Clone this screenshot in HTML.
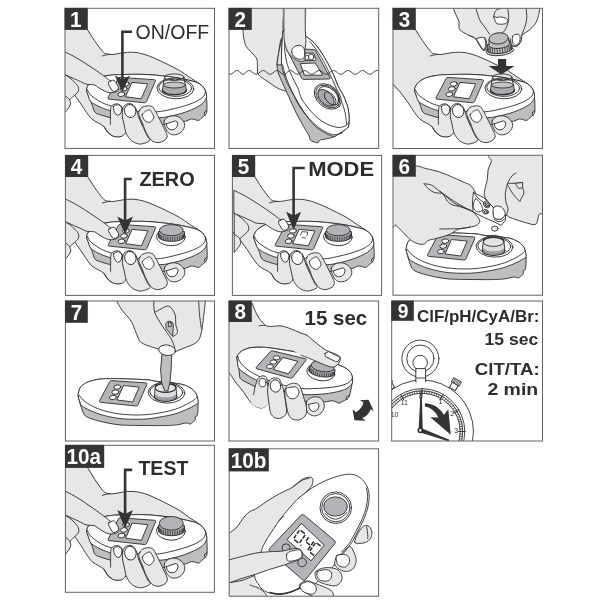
<!DOCTYPE html>
<html><head><meta charset="utf-8">
<style>
html,body{margin:0;padding:0;background:#fff;}
body{width:604px;height:604px;overflow:hidden;font-family:"Liberation Sans",sans-serif;}
svg{display:block;position:absolute;left:0;top:0;will-change:transform;}
text{font-family:"Liberation Sans",sans-serif;}
.l{fill:none;stroke:#2f2d2e;stroke-width:0.9;stroke-linecap:round;stroke-linejoin:round;}
.s{fill:#e6e7e8;stroke:#2f2d2e;stroke-width:0.9;stroke-linejoin:round;stroke-linecap:round;}
.sn{fill:#e6e7e8;stroke:none;}
.w{fill:#fff;stroke:#2f2d2e;stroke-width:0.9;stroke-linejoin:round;stroke-linecap:round;}
.wn{fill:#fff;stroke:none;}
.m{fill:#bcbec0;stroke:#2f2d2e;stroke-width:0.9;stroke-linejoin:round;}
.mn{fill:#bcbec0;stroke:none;}
.g{fill:#b3b5b8;stroke:#2f2d2e;stroke-width:0.9;stroke-linejoin:round;}
.k{fill:#353334;stroke:none;}
.ar{fill:none;stroke:#353334;stroke-width:2.6;stroke-linejoin:miter;}
.pb{fill:none;stroke:#626061;stroke-width:1;}
.nb{fill:#353334;}
.nt{fill:#fff;font-weight:bold;font-size:22px;}
.lb{fill:#2e2c2d;font-weight:bold;}
</style></head><body>
<svg width="604" height="604" viewBox="0 0 604 604">
<defs>
<clipPath id="c1"><rect x="65" y="8.3" width="149.5" height="140.1"/></clipPath>
<clipPath id="c2"><rect x="229" y="8.3" width="149.7" height="140.1"/></clipPath>
<clipPath id="c3"><rect x="393" y="8.3" width="149.5" height="140.2"/></clipPath>
<clipPath id="c4"><rect x="65.4" y="155.4" width="149.1" height="140"/></clipPath>
<clipPath id="c5"><rect x="232.4" y="155.4" width="149.2" height="140"/></clipPath>
<clipPath id="c6"><rect x="393" y="155.3" width="149.5" height="139.9"/></clipPath>
<clipPath id="c7"><rect x="65.4" y="301" width="149.1" height="140"/></clipPath>
<clipPath id="c8"><rect x="229" y="301" width="149.6" height="140"/></clipPath>
<clipPath id="c9"><rect x="391.7" y="301" width="150.8" height="140"/></clipPath>
<clipPath id="c10"><rect x="65.4" y="445.3" width="149" height="147"/></clipPath>
<clipPath id="c11"><rect x="229.2" y="448.8" width="149.4" height="147.4"/></clipPath>

</defs>

<g clip-path="url(#c1)"><g><path class="sn" d="M64.0 29.0C67.9 20.0 82.1 27.4 87.2 29.3C92.3 31.2 92.0 37.0 94.5 40.6C97.0 44.2 100.4 49.0 102.4 51.2C104.4 53.4 104.6 53.2 106.4 53.8C108.2 54.3 110.3 54.6 113.0 54.5C115.7 54.4 119.0 53.3 122.3 52.9C125.6 52.5 129.3 52.0 132.9 52.2C136.5 52.4 140.2 53.1 144.0 54.2C147.8 55.3 151.7 57.0 155.9 58.8C160.1 60.6 165.1 63.1 169.1 65.1C173.1 67.1 176.4 68.6 179.7 70.6C183.0 72.6 185.7 74.8 189.0 77.0C192.3 79.2 196.9 81.7 199.6 83.8C202.3 85.9 204.9 86.9 205.0 89.6C205.1 92.3 205.8 95.3 200.0 100.0C194.2 104.7 182.3 112.7 170.0 118.0C157.7 123.3 134.2 128.9 126.0 132.0C117.8 135.1 123.0 135.6 121.0 136.3C119.0 137.0 116.5 137.0 114.3 136.3C112.1 135.6 109.5 134.0 107.7 132.3C105.9 130.6 105.2 127.8 103.7 126.3C102.2 124.8 100.4 124.2 98.4 123.0C96.4 121.8 93.8 120.8 91.8 119.0C89.8 117.2 88.5 115.2 86.5 112.4C84.5 109.7 82.3 105.9 79.9 102.5C77.5 99.1 74.7 95.2 72.0 91.9C69.3 88.7 65.3 93.5 64.0 83.0C62.7 72.5 60.1 38.0 64.0 29.0Z"/><path class="l" d="M87.2 29.3C88.4 31.2 92.0 37.0 94.5 40.6C97.0 44.2 100.4 49.0 102.4 51.2C104.4 53.4 104.6 53.2 106.4 53.8C108.2 54.3 110.3 54.6 113.0 54.5C115.7 54.4 119.0 53.3 122.3 52.9C125.6 52.5 129.3 52.0 132.9 52.2C136.5 52.4 140.2 53.1 144.0 54.2C147.8 55.3 151.7 57.0 155.9 58.8C160.1 60.6 165.1 63.1 169.1 65.1C173.1 67.1 176.4 68.6 179.7 70.6C183.0 72.6 185.7 74.8 189.0 77.0C192.3 79.2 196.9 81.7 199.6 83.8C202.2 85.9 204.0 88.6 204.9 89.6"/><path class="l" d="M102.2 56.0C102.8 55.8 104.7 55.2 106.0 54.9C107.3 54.6 109.5 54.4 110.2 54.3"/><path class="l" d="M64.0 83.0C65.3 84.5 69.3 88.7 72.0 91.9C74.7 95.2 77.5 99.1 79.9 102.5C82.3 105.9 84.5 109.7 86.5 112.4C88.5 115.2 89.8 117.2 91.8 119.0C93.8 120.8 96.4 121.8 98.4 123.0C100.4 124.2 102.2 124.8 103.7 126.3C105.2 127.8 105.9 130.6 107.7 132.3C109.5 134.0 112.1 135.6 114.3 136.3C116.5 137.0 119.1 137.0 121.0 136.3C122.9 135.6 124.8 133.0 125.6 132.3"/><path class="m" d="M86.5 90.3C86.4 89.0 86.5 88.5 87.2 87.2C87.9 85.9 88.6 83.9 90.5 82.3C92.4 80.7 95.3 78.8 98.4 77.7C101.5 76.6 105.5 75.9 109.0 75.4C112.5 74.9 113.8 74.8 119.6 74.6C125.4 74.4 137.3 74.2 144.0 74.4C150.7 74.6 154.7 75.1 160.0 75.6C165.3 76.1 171.0 76.8 176.0 77.6C181.0 78.4 186.5 79.7 190.0 80.5C193.5 81.3 195.0 81.7 197.0 82.6C199.0 83.5 200.8 84.5 202.2 85.9C203.6 87.3 204.8 89.2 205.5 91.2C206.2 93.2 206.4 94.6 206.6 97.9C206.8 101.2 207.2 108.2 206.9 111.1C206.6 114.0 205.8 113.9 204.9 115.1C204.0 116.2 202.6 117.1 201.5 118.0C200.4 118.9 200.0 120.2 198.3 120.4C196.7 120.6 194.0 118.8 191.6 119.0C189.2 119.2 188.1 120.8 183.7 121.7C179.3 122.6 172.3 124.1 165.0 124.5C157.7 124.9 147.5 124.8 140.0 124.0C132.5 123.2 124.9 121.0 120.0 120.0C115.1 119.0 113.3 118.5 110.4 117.7C107.5 116.9 105.0 116.3 102.4 115.4C99.8 114.5 96.7 114.0 95.0 112.2C93.3 110.4 93.3 107.7 92.1 104.8C90.9 101.9 88.9 97.2 88.0 94.8C87.1 92.4 86.6 91.6 86.5 90.3Z"/><path class="w" d="M86.5 90.3C86.4 89.0 86.5 88.5 87.2 87.2C87.9 85.9 88.6 83.9 90.5 82.3C92.4 80.7 95.3 78.8 98.4 77.7C101.5 76.6 105.5 75.9 109.0 75.4C112.5 74.9 113.8 74.8 119.6 74.6C125.4 74.4 137.3 74.2 144.0 74.4C150.7 74.6 154.7 75.1 160.0 75.6C165.3 76.1 171.0 76.8 176.0 77.6C181.0 78.4 186.5 79.7 190.0 80.5C193.5 81.3 195.0 81.7 197.0 82.6C199.0 83.5 200.8 84.5 202.2 85.9C203.6 87.3 204.8 89.2 205.5 91.2C206.2 93.2 207.0 95.8 206.4 97.9C205.8 100.0 204.2 102.0 202.2 103.8C200.2 105.6 197.6 107.0 194.3 108.5C191.0 110.0 186.6 111.8 182.4 113.1C178.2 114.4 172.9 115.6 169.1 116.4C165.3 117.2 164.7 117.5 159.8 117.7C155.0 117.9 146.3 118.0 140.0 117.5C133.7 117.0 126.9 115.6 122.0 114.5C117.1 113.4 113.5 111.8 110.4 110.8C107.4 109.8 105.9 109.4 103.7 108.5C101.5 107.6 99.3 106.8 97.1 105.6C94.9 104.4 92.0 103.0 90.5 101.2C89.0 99.4 88.7 96.6 88.0 94.8C87.3 93.0 86.6 91.6 86.5 90.3Z"/><path class="l" d="M87.4 89.5C87.8 90.2 88.5 92.6 89.7 94.0C90.9 95.4 92.7 96.7 94.6 98.1C96.5 99.5 98.9 101.1 101.3 102.3C103.7 103.5 105.6 104.2 108.7 105.2C111.8 106.2 114.8 107.5 120.0 108.6C125.2 109.7 133.8 111.1 140.0 111.6C146.2 112.1 152.3 112.1 157.2 111.8C162.0 111.5 164.9 110.7 169.1 109.8C173.3 108.9 178.0 107.8 182.4 106.5C186.8 105.2 192.1 103.5 195.6 101.8C199.1 100.1 201.8 98.3 203.5 96.5C205.2 94.7 205.2 92.1 205.5 91.2"/><path class="l" d="M206.6 110.8C206.3 111.0 205.0 111.4 204.6 112.0C204.2 112.6 204.2 113.7 204.4 114.2C204.6 114.7 205.4 115.0 205.6 115.2"/><path class="g" d="M120.2 77.4L154.4 79.7Q155.9 79.9 155.3 81.3L146.5 101.6Q145.9 103 144.3 102.8L109 99.1Q107.3 98.9 108.1 97.4L118.2 78.4Q118.8 77.3 120.2 77.4Z"/><path class="w" d="M132.3 82.4L147.7 83.9L141.2 98.8L125.8 96.8Z"/><ellipse class="w" cx="125.8" cy="83.9" rx="3.5" ry="2.2" transform="rotate(-8 125.8 83.9)"/><ellipse class="w" cx="123.8" cy="88.9" rx="3.5" ry="2.2" transform="rotate(-8 123.8 88.9)"/><ellipse class="w" cx="121.4" cy="94.3" rx="3.5" ry="2.2" transform="rotate(-8 121.4 94.3)"/><ellipse class="w" cx="175.4" cy="88.4" rx="18.4" ry="10.4" transform="rotate(2 175.4 88.4)"/><ellipse class="w" cx="175.2" cy="87.8" rx="16.5" ry="8.6" transform="rotate(2 175.2 87.8)"/><path class="mn" d="M163.4 85L162.4 90A12 4.7 0 0 0 186.4 90L185.4 85Z" style="fill:#a9abae"/><path class="l" d="M162.4 90A12 4.7 0 0 0 186.4 90"  style="stroke-width:1.5"/><ellipse class="m" cx="174.4" cy="85.0" rx="10.8" ry="3.0" style="fill:#c3c5c7"/><path class="l" d="M164.5 77.2L162.4 90M183.9 77.2L186.4 90"/><ellipse class="l" cx="174.2" cy="77.2" rx="9.7" ry="3.3"/><path class="sn" d="M110.6 109.1C110.8 106.1 110.8 107.0 111.3 106.3C111.8 105.5 112.5 105.0 113.4 104.6C114.3 104.2 115.6 103.8 116.6 103.8C117.6 103.8 118.8 104.1 119.6 104.6C120.4 105.1 121.1 105.9 121.6 106.8C122.1 107.7 122.1 108.1 122.4 110.0C122.7 111.9 122.8 115.0 123.4 118.0C124.0 121.0 125.3 125.5 125.8 128.0C126.3 130.5 127.0 131.6 126.2 133.0C125.4 134.4 123.0 136.0 121.0 136.6C119.0 137.2 116.0 137.2 114.3 136.6C112.6 136.0 111.2 135.0 110.6 133.0C109.9 131.0 110.4 128.4 110.4 124.4C110.4 120.4 110.4 112.1 110.6 109.1Z"/><path class="l" d="M110.4 124.4C110.4 123.0 110.4 118.5 110.4 116.0C110.4 113.5 110.4 110.7 110.6 109.1C110.8 107.5 110.8 107.0 111.3 106.3C111.8 105.5 112.5 105.0 113.4 104.6C114.3 104.2 115.6 103.8 116.6 103.8C117.6 103.8 118.8 104.1 119.6 104.6C120.4 105.1 121.1 105.9 121.6 106.8C122.1 107.7 122.1 108.1 122.4 110.0C122.7 111.9 122.8 115.0 123.4 118.0C124.0 121.0 125.3 125.8 125.8 128.0C126.3 130.2 126.3 130.9 126.4 131.5"/><path class="l" d="M103.7 126.3C104.4 127.3 106.6 130.9 107.7 132.3C108.8 133.7 109.5 134.1 110.6 134.8C111.7 135.5 112.6 136.2 114.3 136.5C116.0 136.8 119.2 136.9 121.0 136.5C122.8 136.1 123.9 134.7 124.8 133.8C125.7 132.9 126.1 131.5 126.4 131.0"/><path class="s" d="M122.6 109.0C122.8 107.3 123.1 107.1 123.8 106.3C124.5 105.5 125.5 104.7 126.5 104.2C127.5 103.8 128.8 103.4 130.0 103.6C131.2 103.8 132.5 104.5 133.5 105.4C134.5 106.3 135.1 106.8 136.0 108.8C136.9 110.8 137.7 114.8 138.8 117.7C139.9 120.6 141.2 122.9 142.6 126.0C144.0 129.1 146.3 134.1 147.5 136.5C148.7 138.9 150.6 139.0 150.0 140.2C149.4 141.3 146.0 142.8 144.0 143.4C142.0 144.0 140.3 144.3 138.2 143.8C136.1 143.3 133.5 142.3 131.5 140.6C129.5 138.9 127.5 136.4 126.3 133.6C125.0 130.8 124.7 126.9 124.0 124.0C123.3 121.1 122.5 118.9 122.3 116.4C122.1 113.9 122.3 110.7 122.6 109.0Z"/><path class="s" d="M164.2 121.0C164.7 119.3 166.4 117.8 168.2 116.9C170.0 116.1 173.1 115.6 175.2 115.9C177.3 116.2 179.4 117.3 181.0 118.6C182.6 119.9 184.1 122.0 184.5 123.8C184.9 125.6 184.3 127.9 183.3 129.6C182.3 131.2 180.4 132.8 178.7 133.7C177.0 134.6 174.7 135.0 172.9 134.8C171.2 134.6 169.5 133.8 168.2 132.5C166.9 131.2 165.7 128.9 165.0 127.0C164.3 125.1 163.7 122.7 164.2 121.0Z"/><path class="s" d="M139.4 110.6C140.0 109.4 140.7 108.2 142.0 107.4C143.3 106.6 145.7 106.0 147.2 105.8C148.7 105.6 149.9 105.8 151.0 106.2C152.1 106.6 152.5 106.4 153.6 108.0C154.7 109.6 156.1 112.5 157.8 115.7C159.5 118.9 162.1 124.0 163.6 127.3C165.1 130.6 166.9 133.3 167.1 135.4C167.3 137.5 166.5 138.8 165.0 140.0C163.5 141.2 160.2 142.5 158.0 142.6C155.8 142.7 153.6 141.8 152.0 140.8C150.4 139.8 149.7 138.3 148.5 136.5C147.3 134.7 146.1 132.4 145.0 130.0C143.9 127.6 143.1 124.6 142.0 122.0C140.9 119.4 139.1 116.3 138.7 114.4C138.3 112.5 138.8 111.8 139.4 110.6Z"/><path class="w" d="M113.3 106.6Q113.2 110.8 115.4 113.8Q117.6 116.2 119.8 114.6Q121.8 112.6 121.7 108.4Q121.4 105.6 118.6 104.8Q115.2 104.4 113.3 106.6Z"/><ellipse class="w" cx="130.2" cy="111.0" rx="5.7" ry="6.6" transform="rotate(-14 130.2 111)"/><path class="w" d="M142.2 114.6C142.6 113.5 144.3 112.2 145.5 111.4C146.7 110.6 148.5 109.7 149.6 109.9C150.7 110.1 151.1 111.4 151.8 112.6C152.5 113.8 153.9 115.8 153.9 117.1C153.9 118.4 152.8 119.7 152.0 120.6C151.2 121.5 150.3 122.3 149.2 122.4C148.1 122.5 146.5 121.9 145.5 121.2C144.5 120.5 143.8 119.1 143.2 118.0C142.6 116.9 141.8 115.7 142.2 114.6Z"/><path class="w" d="M166 123.9L175.8 120.8Q177.9 121.4 177.8 124.2Q177.4 127.6 174.4 129.3Q171.4 130.4 168.8 129Q166.6 127.2 166 123.9Z"/><path class="s" d="M64.0 74.2C65.0 74.8 68.0 76.5 69.8 77.9C71.6 79.3 73.4 81.0 74.8 82.4C76.2 83.9 77.5 85.2 78.1 86.6C78.7 88.0 78.8 89.5 78.5 90.7C78.2 91.9 77.4 92.5 76.4 93.6C75.4 94.7 73.4 96.3 72.3 97.3C71.2 98.3 70.1 98.8 69.8 99.8C69.5 100.8 70.7 101.8 70.6 103.1C70.5 104.3 70.1 105.6 69.0 107.3C67.9 109.0 64.8 112.5 64.0 113.5L64 74.2Z"/><path class="l" d="M64.0 95.2C64.5 95.5 66.0 96.4 67.0 97.2C68.0 98.0 69.3 99.4 69.8 99.8"/><path class="s" d="M64.0 51.5C65.7 52.3 70.6 54.6 73.9 56.4C77.2 58.2 80.6 60.3 83.9 62.4C87.2 64.5 90.5 66.7 93.8 68.9C97.1 71.1 101.0 73.9 103.7 75.8C106.4 77.7 108.0 79.3 109.7 80.3C111.4 81.3 112.4 81.1 113.7 82.0C115.0 82.9 116.8 84.4 117.6 85.7C118.4 87.0 118.9 88.7 118.6 89.7C118.3 90.7 117.0 91.4 115.6 91.9C114.2 92.4 112.1 92.9 110.4 92.8C108.7 92.7 107.3 92.3 105.4 91.5C103.5 90.7 100.6 88.9 98.8 87.8C97.0 86.7 96.3 85.5 94.6 84.9C92.9 84.4 90.4 84.7 88.8 84.5C87.2 84.3 86.1 84.2 84.7 83.7C83.3 83.2 82.7 82.6 80.6 81.6C78.5 80.6 75.1 79.1 72.3 77.9C69.5 76.7 65.4 74.8 64.0 74.2Z"/><path class="w" d="M108.5 82.2L112.6 80.2Q114.2 80 115.2 81.4L118.3 86.6Q118.8 88.4 117.5 89.6L115.2 91.3Q113.2 91.8 111.8 90.2L108.7 84.8Q108 83.2 108.5 82.2Z"/></g><path class="ar" d="M132.0 31.8L122.4 31.8L122.4 80.6"/><path class="k" d="M114.8 75.6L122.4 79.4L130.0 75.6L122.4 91.9Z"/></g>
<g clip-path="url(#c2)"><path class="sn" d="M242.9 7.0L242.9 27.9L243.6 37.1L246.2 46.4L252.8 53.7L256.8 59.0L257.4 66.0L257.5 72.9L260.8 76.9L268.7 82.2L277.0 87.9L282.7 90.3L286.0 91.0L292.0 80.0L300.0 60.0L306.0 41.0L305.3 7.0Z"/><path class="l" d="M242.9 27.9C243.0 29.4 243.1 34.0 243.6 37.1C244.1 40.2 244.7 43.6 246.2 46.4C247.7 49.2 251.0 51.6 252.8 53.7C254.6 55.8 256.0 57.0 256.8 59.0C257.6 61.0 257.3 63.7 257.4 66.0C257.5 68.3 257.5 71.8 257.5 72.9"/><path class="l" d="M257.5 72.9C258.1 73.6 258.9 75.4 260.8 76.9C262.7 78.5 266.0 80.4 268.7 82.2C271.4 84.0 274.7 86.6 277.0 87.9C279.3 89.2 281.2 89.8 282.7 90.3C284.2 90.8 285.4 90.9 286.0 91.0"/><path class="m" d="M284.0 30.0C281.1 30.6 283.1 35.0 282.6 36.5C282.1 38.0 281.5 37.7 281.0 39.3C280.5 40.9 280.0 43.7 279.6 46.0C279.2 48.3 279.1 50.1 278.7 53.2C278.3 56.3 277.0 61.3 277.0 64.8C277.0 68.3 277.7 70.9 278.7 74.0C279.7 77.1 281.1 79.6 282.8 83.4C284.5 87.2 286.6 91.8 288.8 96.8C291.1 101.8 293.8 108.2 296.3 113.2C298.8 118.2 301.6 122.9 303.7 126.6C305.8 130.3 307.8 133.4 308.9 135.6C310.0 137.8 309.7 139.0 310.4 140.0C311.1 141.0 311.8 141.2 313.0 141.6C314.2 142.0 316.7 143.0 317.9 142.7C319.1 142.4 318.7 140.6 320.1 140.0C321.5 139.4 323.9 139.4 326.1 138.9C328.3 138.4 331.3 138.0 333.5 137.1C335.7 136.2 337.5 134.6 339.5 133.3C341.5 132.1 343.8 131.0 345.4 129.6C346.9 128.2 348.3 128.3 348.8 125.1C349.3 121.9 349.2 114.9 348.4 110.2C347.6 105.5 345.6 100.7 343.9 96.8C342.2 92.9 340.1 90.4 338.4 86.8C336.7 83.2 335.4 79.1 333.7 75.2C331.9 71.3 330.0 67.5 327.9 63.6C325.8 59.7 323.3 55.5 321.0 52.0C318.7 48.5 316.5 45.3 314.0 42.7C311.5 40.1 308.2 38.0 305.9 36.4C303.6 34.8 303.6 34.1 300.0 33.0C296.4 31.9 286.9 29.4 284.0 30.0Z"/><path class="s" d="M283.3 7.0C283.2 9.2 283.1 15.4 283.0 20.0C282.9 24.6 283.3 31.0 283.0 34.5C282.7 38.0 282.0 38.0 281.3 41.1C280.6 44.2 279.4 49.0 278.7 53.0C278.0 57.0 277.3 62.8 277.0 64.8L281.6 64.8L281.6 53.2L282.2 41.6L284.6 34.5L284.2 7Z"/><path class="w" d="M284.5 30.0C281.5 31.4 282.7 37.7 282.2 41.6C281.7 45.5 281.7 49.3 281.6 53.2C281.5 57.1 281.2 61.3 281.6 64.8C282.0 68.3 282.9 70.9 283.9 74.0C284.8 77.1 285.5 79.6 287.3 83.4C289.1 87.2 292.1 92.1 294.8 96.8C297.5 101.5 300.5 107.0 303.7 111.7C306.9 116.4 310.6 121.6 314.1 125.1C317.6 128.6 321.4 130.7 324.6 132.6C327.8 134.5 331.0 136.2 333.5 136.3C336.0 136.4 337.5 134.4 339.5 133.3C341.5 132.2 343.8 131.0 345.4 129.6C346.9 128.2 348.3 128.3 348.8 125.1C349.3 121.9 349.2 114.9 348.4 110.2C347.6 105.5 345.6 100.7 343.9 96.8C342.2 92.9 340.1 90.4 338.4 86.8C336.7 83.2 335.4 79.1 333.7 75.2C331.9 71.3 330.0 67.5 327.9 63.6C325.8 59.7 323.3 55.5 321.0 52.0C318.7 48.5 316.5 45.3 314.0 42.7C311.5 40.1 308.2 38.0 305.9 36.4C303.6 34.8 303.6 34.1 300.0 33.0C296.4 31.9 287.5 28.6 284.5 30.0Z"/><path class="l" d="M284.5 41.6C284.6 43.5 284.6 49.3 285.1 53.2C285.6 57.1 286.2 60.9 287.4 64.8C288.5 68.7 290.3 72.6 292.0 76.4C293.7 80.2 296.1 84.0 297.8 87.9C299.5 91.8 299.5 95.3 302.2 99.8C304.9 104.3 310.1 110.7 314.1 114.7C318.1 118.7 322.1 121.5 326.1 123.6C330.1 125.7 334.7 127.1 338.0 127.4C341.3 127.7 344.2 126.5 346.0 125.6C347.8 124.7 348.2 122.6 348.6 122.0"/><path class="l" d="M282.6 64.8C283.1 66.7 284.2 72.0 285.6 76.0C287.0 80.0 288.7 84.0 291.0 89.0C293.3 94.0 296.1 100.8 299.2 105.8C302.3 110.8 306.0 115.2 309.7 119.2C313.4 123.2 317.6 127.0 321.6 129.6C325.6 132.2 330.0 134.3 333.5 134.8C337.0 135.3 341.0 133.0 342.5 132.6"/><path class="l" d="M310.0 41.5C311.3 43.2 315.5 48.2 318.0 52.0C320.5 55.8 322.8 59.9 325.0 64.0C327.2 68.1 329.1 72.5 331.0 76.5C332.9 80.5 334.7 84.4 336.4 88.3C338.1 92.2 339.6 96.0 341.0 100.0C342.4 104.0 344.1 108.0 345.0 112.0C345.9 116.0 346.3 122.0 346.6 124.0"/><path class="g" d="M296 48.5L313.8 49.6Q315.2 49.8 315.8 51L330 77.5Q330.6 79 329 79L303.6 79.4Q302.2 79.4 301.6 78.2L287 50Z"/><path class="w" d="M300.7 63.6L315.2 63L322.7 75.2L304.8 75.2Z"/><path class="w" d="M296 53.2L313 53.2Q313.8 53.2 314.2 54.2L316 59.4Q316.3 60.4 315.4 60.4L300 60.8Z"/><ellipse class="w" cx="306.8" cy="57.6" rx="2.0" ry="2.4"/><ellipse class="w" cx="311.2" cy="57.0" rx="2.7" ry="2.9"/><ellipse class="w" cx="327.8" cy="96.5" rx="15.2" ry="10.8" transform="rotate(40 327.8 96.5)"/><ellipse class="w" cx="327.9" cy="96.5" rx="13.6" ry="9.4" transform="rotate(40 327.9 96.5)"/><ellipse class="w" cx="328.4" cy="96.3" rx="11.8" ry="7.8" transform="rotate(42 328.4 96.3)"/><ellipse class="m" cx="326.0" cy="97.8" rx="10.0" ry="6.0" transform="rotate(46 326 97.8)" style="fill:#a7a9ac"/><ellipse class="l" cx="330.2" cy="98.4" rx="7.8" ry="4.2" transform="rotate(50 330.2 98.4)"/><path class="l" d="M333.5 88.6Q340 94 338.4 102"/><path class="sn" d="M283.9 7.0C280.3 10.8 283.8 24.2 283.9 30.0C284.0 35.8 283.9 38.1 284.5 41.6C285.1 45.1 286.1 48.4 287.4 50.9C288.6 53.4 290.3 55.1 292.0 56.7C293.7 58.3 296.1 59.9 297.8 60.7C299.5 61.5 301.2 61.5 302.4 61.3C303.6 61.1 304.4 60.7 304.8 59.5C305.2 58.3 304.9 55.6 304.9 54.0C304.9 52.4 304.6 51.8 304.8 49.7C305.0 47.6 305.8 44.9 305.9 41.6C306.0 38.3 305.4 35.8 305.3 30.0C305.2 24.2 308.9 10.8 305.3 7.0C301.7 3.2 287.5 3.2 283.9 7.0Z"/><path class="l" d="M283.9 7.0C283.9 10.8 283.8 24.2 283.9 30.0C284.0 35.8 283.9 38.1 284.5 41.6C285.1 45.1 286.1 48.4 287.4 50.9C288.6 53.4 290.3 55.1 292.0 56.7C293.7 58.3 296.1 59.9 297.8 60.7C299.5 61.5 301.2 61.5 302.4 61.3C303.6 61.1 304.4 60.7 304.8 59.5C305.2 58.3 304.9 55.6 304.9 54.0C304.9 52.4 304.6 51.8 304.8 49.7C305.0 47.6 305.8 44.9 305.9 41.6C306.0 38.3 305.4 35.8 305.3 30.0C305.2 24.2 305.3 10.8 305.3 7.0"/><path class="w" d="M291.6 52.0C291.4 50.7 292.1 49.5 292.6 48.6C293.1 47.7 293.5 47.2 294.6 46.6C295.7 46.0 297.6 45.2 299.0 45.2C300.4 45.2 301.9 46.0 302.8 46.8C303.7 47.6 304.1 48.8 304.4 50.0C304.7 51.2 304.7 52.6 304.6 54.0C304.5 55.4 304.3 57.5 303.6 58.4C302.9 59.3 301.6 59.1 300.6 59.2C299.6 59.3 298.8 59.3 297.6 58.8C296.4 58.3 294.6 57.3 293.6 56.2C292.6 55.1 291.8 53.3 291.6 52.0Z"/><path class="l" d="M228.0 73.1C228.3 73.2 229.1 73.9 229.6 74.1C230.1 74.3 230.7 74.3 231.2 74.2C231.7 74.0 232.3 73.6 232.8 73.2C233.3 72.8 233.9 72.2 234.4 71.8C234.9 71.4 235.5 70.9 236.0 70.7C236.5 70.5 237.1 70.4 237.6 70.6C238.1 70.7 238.7 71.2 239.2 71.6C239.7 72.1 240.3 72.8 240.8 73.2C241.3 73.6 241.9 74.1 242.4 74.2C242.9 74.4 243.5 74.3 244.0 74.0C244.5 73.8 245.1 73.2 245.6 72.7C246.1 72.3 246.7 71.6 247.2 71.2C247.7 70.8 248.3 70.6 248.8 70.5C249.3 70.4 249.9 70.6 250.4 70.9C250.9 71.1 251.5 71.6 252.0 72.0C252.5 72.4 253.1 72.9 253.6 73.3C254.1 73.6 254.7 74.0 255.2 74.1C255.7 74.3 256.3 74.3 256.8 74.2C257.3 74.1 257.9 73.8 258.4 73.5C258.9 73.1 259.5 72.6 260.0 72.2C260.5 71.8 261.1 71.3 261.6 71.0C262.1 70.8 262.7 70.5 263.2 70.5C263.7 70.5 264.3 70.6 264.8 70.9C265.3 71.1 265.9 71.6 266.4 72.1C266.9 72.5 267.5 73.0 268.0 73.4C268.5 73.8 269.1 74.1 269.6 74.2C270.1 74.3 270.7 74.3 271.2 74.1C271.7 73.9 272.3 73.5 272.8 73.1C273.3 72.7 273.9 72.1 274.4 71.7C274.9 71.3 275.5 70.9 276.0 70.7C276.5 70.5 277.1 70.5 277.6 70.6C278.1 70.7 278.7 71.0 279.2 71.4C279.7 71.8 280.3 72.4 280.8 72.8C281.3 73.2 281.9 73.7 282.4 73.9C282.9 74.2 283.5 74.3 284.0 74.3C284.5 74.2 285.1 74.0 285.6 73.6C286.1 73.3 286.7 72.8 287.2 72.3C287.7 71.9 288.3 71.4 288.8 71.1C289.3 70.8 289.9 70.5 290.4 70.5C290.9 70.5 291.5 70.7 292.0 70.9C292.5 71.2 293.1 71.7 293.6 72.1C294.1 72.5 294.7 73.0 295.2 73.4C295.7 73.7 296.3 74.1 296.8 74.2C297.3 74.3 297.9 74.3 298.4 74.1C298.9 74.0 299.5 73.6 300.0 73.2C300.5 72.8 301.1 72.3 301.6 71.9C302.1 71.5 302.7 71.0 303.2 70.8C303.7 70.6 304.3 70.5 304.8 70.5C305.3 70.6 305.9 70.8 306.4 71.1C306.9 71.4 307.5 71.9 308.0 72.3C308.5 72.7 309.1 73.2 309.6 73.5C310.1 73.9 310.7 74.2 311.2 74.2C311.7 74.3 312.3 74.3 312.8 74.1C313.3 73.9 313.9 73.5 314.4 73.2C314.9 72.8 315.5 72.3 316.0 71.9C316.5 71.5 317.1 71.1 317.6 70.8C318.1 70.6 318.7 70.5 319.2 70.5C319.7 70.5 320.3 70.8 320.8 71.0C321.3 71.3 321.9 71.8 322.4 72.2C322.9 72.6 323.5 73.1 324.0 73.5C324.5 73.8 325.1 74.1 325.6 74.2C326.1 74.3 326.7 74.3 327.2 74.1C327.7 74.0 328.3 73.6 328.8 73.3C329.3 72.9 329.9 72.4 330.4 72.0C330.9 71.6 331.5 71.1 332.0 70.9C332.5 70.6 333.1 70.5 333.6 70.5C334.1 70.5 334.7 70.7 335.2 71.0C335.7 71.3 336.3 71.7 336.8 72.1C337.3 72.5 337.9 73.1 338.4 73.4C338.9 73.7 339.5 74.1 340.0 74.2C340.5 74.3 341.1 74.3 341.6 74.2C342.1 74.0 342.7 73.7 343.2 73.3C343.7 73.0 344.3 72.4 344.8 72.1C345.3 71.7 345.9 71.2 346.4 70.9C346.9 70.7 347.5 70.5 348.0 70.5C348.5 70.5 349.1 70.7 349.6 70.9C350.1 71.2 350.7 71.6 351.2 72.0C351.7 72.4 352.3 72.9 352.8 73.3C353.3 73.7 353.9 74.0 354.4 74.2C354.9 74.3 355.5 74.3 356.0 74.2C356.5 74.1 357.1 73.8 357.6 73.4C358.1 73.1 358.7 72.6 359.2 72.2C359.7 71.8 360.3 71.3 360.8 71.0C361.3 70.8 361.9 70.5 362.4 70.5C362.9 70.5 363.5 70.6 364.0 70.8C364.5 71.1 365.1 71.5 365.6 71.9C366.1 72.3 366.7 72.8 367.2 73.2C367.7 73.6 368.3 73.9 368.8 74.1C369.3 74.3 369.9 74.3 370.4 74.2C370.9 74.1 371.5 73.8 372.0 73.5C372.5 73.2 373.1 72.6 373.6 72.2C374.1 71.8 374.7 71.3 375.2 71.1C375.7 70.8 376.3 70.5 376.8 70.5C377.3 70.5 378.1 70.8 378.4 70.8"/></g>
<g clip-path="url(#c3)"><g transform="translate(328,0)"><path class="sn" d="M64.0 29.0C67.9 20.0 82.1 27.4 87.2 29.3C92.3 31.2 92.0 37.0 94.5 40.6C97.0 44.2 100.4 49.0 102.4 51.2C104.4 53.4 104.6 53.2 106.4 53.8C108.2 54.3 110.3 54.6 113.0 54.5C115.7 54.4 119.0 53.3 122.3 52.9C125.6 52.5 129.3 52.0 132.9 52.2C136.5 52.4 140.2 53.1 144.0 54.2C147.8 55.3 151.7 57.0 155.9 58.8C160.1 60.6 165.1 63.1 169.1 65.1C173.1 67.1 176.4 68.6 179.7 70.6C183.0 72.6 185.7 74.8 189.0 77.0C192.3 79.2 196.9 81.7 199.6 83.8C202.3 85.9 204.9 86.9 205.0 89.6C205.1 92.3 205.8 95.3 200.0 100.0C194.2 104.7 182.3 112.7 170.0 118.0C157.7 123.3 134.2 128.9 126.0 132.0C117.8 135.1 123.0 135.6 121.0 136.3C119.0 137.0 116.5 137.0 114.3 136.3C112.1 135.6 109.5 134.0 107.7 132.3C105.9 130.6 105.2 127.8 103.7 126.3C102.2 124.8 100.4 124.2 98.4 123.0C96.4 121.8 93.8 120.8 91.8 119.0C89.8 117.2 88.5 115.2 86.5 112.4C84.5 109.7 82.3 105.9 79.9 102.5C77.5 99.1 74.7 95.2 72.0 91.9C69.3 88.7 65.3 93.5 64.0 83.0C62.7 72.5 60.1 38.0 64.0 29.0Z"/><path class="l" d="M87.2 29.3C88.4 31.2 92.0 37.0 94.5 40.6C97.0 44.2 100.4 49.0 102.4 51.2C104.4 53.4 104.6 53.2 106.4 53.8C108.2 54.3 110.3 54.6 113.0 54.5C115.7 54.4 119.0 53.3 122.3 52.9C125.6 52.5 129.3 52.0 132.9 52.2C136.5 52.4 140.2 53.1 144.0 54.2C147.8 55.3 151.7 57.0 155.9 58.8C160.1 60.6 165.1 63.1 169.1 65.1C173.1 67.1 176.4 68.6 179.7 70.6C183.0 72.6 185.7 74.8 189.0 77.0C192.3 79.2 196.9 81.7 199.6 83.8C202.2 85.9 204.0 88.6 204.9 89.6"/><path class="l" d="M102.2 56.0C102.8 55.8 104.7 55.2 106.0 54.9C107.3 54.6 109.5 54.4 110.2 54.3"/><path class="l" d="M64.0 83.0C65.3 84.5 69.3 88.7 72.0 91.9C74.7 95.2 77.5 99.1 79.9 102.5C82.3 105.9 84.5 109.7 86.5 112.4C88.5 115.2 89.8 117.2 91.8 119.0C93.8 120.8 96.4 121.8 98.4 123.0C100.4 124.2 102.2 124.8 103.7 126.3C105.2 127.8 105.9 130.6 107.7 132.3C109.5 134.0 112.1 135.6 114.3 136.3C116.5 137.0 119.1 137.0 121.0 136.3C122.9 135.6 124.8 133.0 125.6 132.3"/><path class="m" d="M86.5 90.3C86.4 89.0 86.5 88.5 87.2 87.2C87.9 85.9 88.6 83.9 90.5 82.3C92.4 80.7 95.3 78.8 98.4 77.7C101.5 76.6 105.5 75.9 109.0 75.4C112.5 74.9 113.8 74.8 119.6 74.6C125.4 74.4 137.3 74.2 144.0 74.4C150.7 74.6 154.7 75.1 160.0 75.6C165.3 76.1 171.0 76.8 176.0 77.6C181.0 78.4 186.5 79.7 190.0 80.5C193.5 81.3 195.0 81.7 197.0 82.6C199.0 83.5 200.8 84.5 202.2 85.9C203.6 87.3 204.8 89.2 205.5 91.2C206.2 93.2 206.4 94.6 206.6 97.9C206.8 101.2 207.2 108.2 206.9 111.1C206.6 114.0 205.8 113.9 204.9 115.1C204.0 116.2 202.6 117.1 201.5 118.0C200.4 118.9 200.0 120.2 198.3 120.4C196.7 120.6 194.0 118.8 191.6 119.0C189.2 119.2 188.1 120.8 183.7 121.7C179.3 122.6 172.3 124.1 165.0 124.5C157.7 124.9 147.5 124.8 140.0 124.0C132.5 123.2 124.9 121.0 120.0 120.0C115.1 119.0 113.3 118.5 110.4 117.7C107.5 116.9 105.0 116.3 102.4 115.4C99.8 114.5 96.7 114.0 95.0 112.2C93.3 110.4 93.3 107.7 92.1 104.8C90.9 101.9 88.9 97.2 88.0 94.8C87.1 92.4 86.6 91.6 86.5 90.3Z"/><path class="w" d="M86.5 90.3C86.4 89.0 86.5 88.5 87.2 87.2C87.9 85.9 88.6 83.9 90.5 82.3C92.4 80.7 95.3 78.8 98.4 77.7C101.5 76.6 105.5 75.9 109.0 75.4C112.5 74.9 113.8 74.8 119.6 74.6C125.4 74.4 137.3 74.2 144.0 74.4C150.7 74.6 154.7 75.1 160.0 75.6C165.3 76.1 171.0 76.8 176.0 77.6C181.0 78.4 186.5 79.7 190.0 80.5C193.5 81.3 195.0 81.7 197.0 82.6C199.0 83.5 200.8 84.5 202.2 85.9C203.6 87.3 204.8 89.2 205.5 91.2C206.2 93.2 207.0 95.8 206.4 97.9C205.8 100.0 204.2 102.0 202.2 103.8C200.2 105.6 197.6 107.0 194.3 108.5C191.0 110.0 186.6 111.8 182.4 113.1C178.2 114.4 172.9 115.6 169.1 116.4C165.3 117.2 164.7 117.5 159.8 117.7C155.0 117.9 146.3 118.0 140.0 117.5C133.7 117.0 126.9 115.6 122.0 114.5C117.1 113.4 113.5 111.8 110.4 110.8C107.4 109.8 105.9 109.4 103.7 108.5C101.5 107.6 99.3 106.8 97.1 105.6C94.9 104.4 92.0 103.0 90.5 101.2C89.0 99.4 88.7 96.6 88.0 94.8C87.3 93.0 86.6 91.6 86.5 90.3Z"/><path class="l" d="M87.4 89.5C87.8 90.2 88.5 92.6 89.7 94.0C90.9 95.4 92.7 96.7 94.6 98.1C96.5 99.5 98.9 101.1 101.3 102.3C103.7 103.5 105.6 104.2 108.7 105.2C111.8 106.2 114.8 107.5 120.0 108.6C125.2 109.7 133.8 111.1 140.0 111.6C146.2 112.1 152.3 112.1 157.2 111.8C162.0 111.5 164.9 110.7 169.1 109.8C173.3 108.9 178.0 107.8 182.4 106.5C186.8 105.2 192.1 103.5 195.6 101.8C199.1 100.1 201.8 98.3 203.5 96.5C205.2 94.7 205.2 92.1 205.5 91.2"/><path class="l" d="M206.6 110.8C206.3 111.0 205.0 111.4 204.6 112.0C204.2 112.6 204.2 113.7 204.4 114.2C204.6 114.7 205.4 115.0 205.6 115.2"/><path class="g" d="M120.2 77.4L154.4 79.7Q155.9 79.9 155.3 81.3L146.5 101.6Q145.9 103 144.3 102.8L109 99.1Q107.3 98.9 108.1 97.4L118.2 78.4Q118.8 77.3 120.2 77.4Z"/><path class="w" d="M132.3 82.4L147.7 83.9L141.2 98.8L125.8 96.8Z"/><ellipse class="w" cx="125.8" cy="83.9" rx="3.5" ry="2.2" transform="rotate(-8 125.8 83.9)"/><ellipse class="w" cx="123.8" cy="88.9" rx="3.5" ry="2.2" transform="rotate(-8 123.8 88.9)"/><ellipse class="w" cx="121.4" cy="94.3" rx="3.5" ry="2.2" transform="rotate(-8 121.4 94.3)"/><ellipse class="w" cx="175.4" cy="88.4" rx="18.4" ry="10.4" transform="rotate(2 175.4 88.4)"/><ellipse class="w" cx="175.2" cy="87.8" rx="16.5" ry="8.6" transform="rotate(2 175.2 87.8)"/><path class="mn" d="M163.4 85L162.4 90A12 4.7 0 0 0 186.4 90L185.4 85Z" style="fill:#a9abae"/><path class="l" d="M162.4 90A12 4.7 0 0 0 186.4 90"  style="stroke-width:1.5"/><ellipse class="m" cx="174.4" cy="85.0" rx="10.8" ry="3.0" style="fill:#c3c5c7"/><path class="l" d="M164.5 77.2L162.4 90M183.9 77.2L186.4 90"/><ellipse class="l" cx="174.2" cy="77.2" rx="9.7" ry="3.3"/><path class="sn" d="M110.6 109.1C110.8 106.1 110.8 107.0 111.3 106.3C111.8 105.5 112.5 105.0 113.4 104.6C114.3 104.2 115.6 103.8 116.6 103.8C117.6 103.8 118.8 104.1 119.6 104.6C120.4 105.1 121.1 105.9 121.6 106.8C122.1 107.7 122.1 108.1 122.4 110.0C122.7 111.9 122.8 115.0 123.4 118.0C124.0 121.0 125.3 125.5 125.8 128.0C126.3 130.5 127.0 131.6 126.2 133.0C125.4 134.4 123.0 136.0 121.0 136.6C119.0 137.2 116.0 137.2 114.3 136.6C112.6 136.0 111.2 135.0 110.6 133.0C109.9 131.0 110.4 128.4 110.4 124.4C110.4 120.4 110.4 112.1 110.6 109.1Z"/><path class="l" d="M110.4 124.4C110.4 123.0 110.4 118.5 110.4 116.0C110.4 113.5 110.4 110.7 110.6 109.1C110.8 107.5 110.8 107.0 111.3 106.3C111.8 105.5 112.5 105.0 113.4 104.6C114.3 104.2 115.6 103.8 116.6 103.8C117.6 103.8 118.8 104.1 119.6 104.6C120.4 105.1 121.1 105.9 121.6 106.8C122.1 107.7 122.1 108.1 122.4 110.0C122.7 111.9 122.8 115.0 123.4 118.0C124.0 121.0 125.3 125.8 125.8 128.0C126.3 130.2 126.3 130.9 126.4 131.5"/><path class="l" d="M103.7 126.3C104.4 127.3 106.6 130.9 107.7 132.3C108.8 133.7 109.5 134.1 110.6 134.8C111.7 135.5 112.6 136.2 114.3 136.5C116.0 136.8 119.2 136.9 121.0 136.5C122.8 136.1 123.9 134.7 124.8 133.8C125.7 132.9 126.1 131.5 126.4 131.0"/><path class="s" d="M122.6 109.0C122.8 107.3 123.1 107.1 123.8 106.3C124.5 105.5 125.5 104.7 126.5 104.2C127.5 103.8 128.8 103.4 130.0 103.6C131.2 103.8 132.5 104.5 133.5 105.4C134.5 106.3 135.1 106.8 136.0 108.8C136.9 110.8 137.7 114.8 138.8 117.7C139.9 120.6 141.2 122.9 142.6 126.0C144.0 129.1 146.3 134.1 147.5 136.5C148.7 138.9 150.6 139.0 150.0 140.2C149.4 141.3 146.0 142.8 144.0 143.4C142.0 144.0 140.3 144.3 138.2 143.8C136.1 143.3 133.5 142.3 131.5 140.6C129.5 138.9 127.5 136.4 126.3 133.6C125.0 130.8 124.7 126.9 124.0 124.0C123.3 121.1 122.5 118.9 122.3 116.4C122.1 113.9 122.3 110.7 122.6 109.0Z"/><path class="s" d="M164.2 121.0C164.7 119.3 166.4 117.8 168.2 116.9C170.0 116.1 173.1 115.6 175.2 115.9C177.3 116.2 179.4 117.3 181.0 118.6C182.6 119.9 184.1 122.0 184.5 123.8C184.9 125.6 184.3 127.9 183.3 129.6C182.3 131.2 180.4 132.8 178.7 133.7C177.0 134.6 174.7 135.0 172.9 134.8C171.2 134.6 169.5 133.8 168.2 132.5C166.9 131.2 165.7 128.9 165.0 127.0C164.3 125.1 163.7 122.7 164.2 121.0Z"/><path class="s" d="M139.4 110.6C140.0 109.4 140.7 108.2 142.0 107.4C143.3 106.6 145.7 106.0 147.2 105.8C148.7 105.6 149.9 105.8 151.0 106.2C152.1 106.6 152.5 106.4 153.6 108.0C154.7 109.6 156.1 112.5 157.8 115.7C159.5 118.9 162.1 124.0 163.6 127.3C165.1 130.6 166.9 133.3 167.1 135.4C167.3 137.5 166.5 138.8 165.0 140.0C163.5 141.2 160.2 142.5 158.0 142.6C155.8 142.7 153.6 141.8 152.0 140.8C150.4 139.8 149.7 138.3 148.5 136.5C147.3 134.7 146.1 132.4 145.0 130.0C143.9 127.6 143.1 124.6 142.0 122.0C140.9 119.4 139.1 116.3 138.7 114.4C138.3 112.5 138.8 111.8 139.4 110.6Z"/><path class="w" d="M113.3 106.6Q113.2 110.8 115.4 113.8Q117.6 116.2 119.8 114.6Q121.8 112.6 121.7 108.4Q121.4 105.6 118.6 104.8Q115.2 104.4 113.3 106.6Z"/><ellipse class="w" cx="130.2" cy="111.0" rx="5.7" ry="6.6" transform="rotate(-14 130.2 111)"/><path class="w" d="M142.2 114.6C142.6 113.5 144.3 112.2 145.5 111.4C146.7 110.6 148.5 109.7 149.6 109.9C150.7 110.1 151.1 111.4 151.8 112.6C152.5 113.8 153.9 115.8 153.9 117.1C153.9 118.4 152.8 119.7 152.0 120.6C151.2 121.5 150.3 122.3 149.2 122.4C148.1 122.5 146.5 121.9 145.5 121.2C144.5 120.5 143.8 119.1 143.2 118.0C142.6 116.9 141.8 115.7 142.2 114.6Z"/><path class="w" d="M166 123.9L175.8 120.8Q177.9 121.4 177.8 124.2Q177.4 127.6 174.4 129.3Q171.4 130.4 168.8 129Q166.6 127.2 166 123.9Z"/></g><path class="s" d="M453.1 7.0C453.5 8.2 454.5 11.6 455.5 14.0C456.5 16.4 458.2 18.6 458.9 21.2C459.6 23.8 458.0 27.1 459.7 29.5C461.4 31.9 466.2 33.8 468.8 35.3C471.4 36.8 473.7 36.9 475.5 38.6C477.3 40.3 478.2 43.3 479.6 45.3C481.0 47.3 482.1 50.1 483.7 50.6C485.3 51.1 486.3 49.1 489.0 48.0C491.7 46.9 496.5 45.2 500.0 44.0C503.5 42.8 508.2 40.7 510.2 41.0C512.2 41.3 510.8 44.7 511.9 45.6C513.0 46.5 515.3 47.0 516.8 46.3C518.3 45.5 520.2 42.9 521.0 41.1C521.8 39.3 520.3 37.2 521.8 35.3C523.3 33.4 527.6 31.9 530.1 29.5C532.6 27.1 535.0 24.9 536.7 21.2C538.4 17.4 539.6 9.4 540.2 7.0Z"/><g transform="translate(498.6 38.4) rotate(-6) scale(1)"><ellipse class="m" cx="0" cy="12.6" rx="13.8" ry="4.6" style="fill:#d4d5d7"/><path class="w" d="M-12 5.5L-12.4 11.2A12.4 3.9 0 0 0 12.4 11.2L12 5.5Z" style="fill:#c6c8ca"/><path class="l" d="M-11.5 7.4L-11.9 11.8" style="stroke-width:0.8"/><path class="l" d="M-10.7 8.2L-11.0 12.6" style="stroke-width:0.8"/><path class="l" d="M-9.3 8.8L-9.5 13.2" style="stroke-width:0.8"/><path class="l" d="M-7.4 9.4L-7.6 13.8" style="stroke-width:0.8"/><path class="l" d="M-5.1 9.8L-5.3 14.2" style="stroke-width:0.8"/><path class="l" d="M-2.6 10.1L-2.7 14.5" style="stroke-width:0.8"/><path class="l" d="M-0.0 10.2L-0.0 14.6" style="stroke-width:0.8"/><path class="l" d="M2.6 10.1L2.7 14.5" style="stroke-width:0.8"/><path class="l" d="M5.1 9.8L5.3 14.2" style="stroke-width:0.8"/><path class="l" d="M7.4 9.4L7.6 13.8" style="stroke-width:0.8"/><path class="l" d="M9.3 8.8L9.5 13.2" style="stroke-width:0.8"/><path class="l" d="M10.7 8.2L11.0 12.6" style="stroke-width:0.8"/><path class="l" d="M11.5 7.4L11.9 11.8" style="stroke-width:0.8"/><path class="m" d="M-9.6 0L-10.4 6.2A10.4 3.8 0 0 0 10.4 6.2L9.6 0Z"/><ellipse class="m" cx="0" cy="0" rx="9.6" ry="5.6"/></g><path class="sn" d="M470.0 34.0C470.2 34.9 473.9 36.7 475.5 38.6C477.1 40.5 478.2 43.3 479.6 45.3C481.0 47.3 482.6 50.1 483.7 50.4C484.8 50.7 485.5 48.4 486.0 47.0C486.5 45.6 486.8 43.6 486.6 42.0C486.4 40.4 485.7 38.4 484.6 37.2C483.5 36.0 481.8 35.3 480.0 34.6C478.2 33.9 475.7 33.1 474.0 33.0C472.3 32.9 469.8 33.1 470.0 34.0Z"/><path class="l" d="M468.8 35.3C469.9 35.8 473.7 36.9 475.5 38.6C477.3 40.3 478.2 43.3 479.6 45.3C481.0 47.3 482.6 50.1 483.7 50.4C484.8 50.7 485.5 48.4 486.0 47.0C486.5 45.6 486.8 43.6 486.6 42.0C486.4 40.4 484.9 38.0 484.6 37.2"/><path class="w" d="M476.6 38.8C476.9 38.0 478.8 37.8 480.0 37.6C481.2 37.4 482.7 37.0 483.6 37.6C484.5 38.2 485.3 39.7 485.6 41.0C485.9 42.3 485.9 44.2 485.6 45.6C485.3 47.0 484.6 49.2 483.8 49.4C483.0 49.6 481.9 47.8 481.0 46.6C480.1 45.4 479.1 43.7 478.4 42.4C477.7 41.1 476.3 39.6 476.6 38.8Z"/><path class="sn" d="M510.4 33.0C509.1 34.3 509.9 35.8 510.2 37.8C510.4 39.8 510.8 43.9 511.9 45.3C513.0 46.7 515.3 46.8 516.8 46.1C518.3 45.4 520.2 42.9 521.0 41.1C521.8 39.3 522.3 37.1 521.8 35.3C521.3 33.4 519.9 30.4 518.0 30.0C516.1 29.6 511.7 31.7 510.4 33.0Z"/><path class="l" d="M510.3 38.6C510.4 39.0 510.3 39.9 510.6 41.0C510.9 42.1 510.9 44.4 511.9 45.3C512.9 46.1 515.3 46.8 516.8 46.1C518.3 45.4 520.2 42.9 521.0 41.1C521.8 39.3 521.7 36.3 521.8 35.3"/><path class="w" d="M512.6 36.4C513.0 35.3 513.6 34.9 514.6 34.6C515.6 34.3 517.7 34.0 518.6 34.4C519.5 34.8 520.0 35.8 520.2 37.0C520.4 38.2 520.1 40.1 519.6 41.4C519.1 42.7 518.0 44.2 517.0 44.8C516.0 45.4 514.4 45.4 513.6 44.8C512.8 44.2 512.6 42.4 512.4 41.0C512.2 39.6 512.2 37.5 512.6 36.4Z"/><path class="l" d="M475.5 7.0C476.2 9.1 478.0 16.1 479.6 19.6C481.2 23.1 483.8 25.5 485.4 27.9C487.0 30.3 488.8 33.2 489.5 34.2"/><path class="l" d="M526.0 7.0C526.1 8.8 526.9 14.7 526.8 17.9C526.6 21.1 525.9 23.4 525.1 26.2C524.3 29.0 522.3 33.2 521.8 34.6"/><path class="l" d="M507.6 7.0C507.8 9.1 509.0 15.9 508.6 19.6C508.2 23.4 506.4 27.3 505.3 29.5C504.2 31.7 502.6 32.4 502.0 33.0"/><path class="l" d="M493.7 16.6C493.9 15.9 494.1 13.8 494.6 12.6C495.2 11.4 495.9 10.3 497.0 9.6C498.1 8.9 500.3 8.6 501.0 8.4"/><path class="w" d="M493.7 16.6C493.3 16.8 493.9 17.6 494.5 18.8C495.1 20.0 495.2 22.9 497.0 23.7C498.8 24.5 503.5 24.4 505.3 23.7C507.1 23.0 508.2 20.7 507.7 19.6C507.1 18.5 503.8 17.5 502.0 17.1C500.2 16.7 498.4 17.5 497.0 17.4C495.6 17.3 494.1 16.4 493.7 16.6Z"/><path class="k" d="M498 59.1L506.2 59.1L506.2 66L514.4 66L501.4 74.4L488.5 66L498 66Z"/></g>
<g clip-path="url(#c4)"><g transform="translate(0.2,147)"><path class="sn" d="M64.0 29.0C67.9 20.0 82.1 27.4 87.2 29.3C92.3 31.2 92.0 37.0 94.5 40.6C97.0 44.2 100.4 49.0 102.4 51.2C104.4 53.4 104.6 53.2 106.4 53.8C108.2 54.3 110.3 54.6 113.0 54.5C115.7 54.4 119.0 53.3 122.3 52.9C125.6 52.5 129.3 52.0 132.9 52.2C136.5 52.4 140.2 53.1 144.0 54.2C147.8 55.3 151.7 57.0 155.9 58.8C160.1 60.6 165.1 63.1 169.1 65.1C173.1 67.1 176.4 68.6 179.7 70.6C183.0 72.6 185.7 74.8 189.0 77.0C192.3 79.2 196.9 81.7 199.6 83.8C202.3 85.9 204.9 86.9 205.0 89.6C205.1 92.3 205.8 95.3 200.0 100.0C194.2 104.7 182.3 112.7 170.0 118.0C157.7 123.3 134.2 128.9 126.0 132.0C117.8 135.1 123.0 135.6 121.0 136.3C119.0 137.0 116.5 137.0 114.3 136.3C112.1 135.6 109.5 134.0 107.7 132.3C105.9 130.6 105.2 127.8 103.7 126.3C102.2 124.8 100.4 124.2 98.4 123.0C96.4 121.8 93.8 120.8 91.8 119.0C89.8 117.2 88.5 115.2 86.5 112.4C84.5 109.7 82.3 105.9 79.9 102.5C77.5 99.1 74.7 95.2 72.0 91.9C69.3 88.7 65.3 93.5 64.0 83.0C62.7 72.5 60.1 38.0 64.0 29.0Z"/><path class="l" d="M87.2 29.3C88.4 31.2 92.0 37.0 94.5 40.6C97.0 44.2 100.4 49.0 102.4 51.2C104.4 53.4 104.6 53.2 106.4 53.8C108.2 54.3 110.3 54.6 113.0 54.5C115.7 54.4 119.0 53.3 122.3 52.9C125.6 52.5 129.3 52.0 132.9 52.2C136.5 52.4 140.2 53.1 144.0 54.2C147.8 55.3 151.7 57.0 155.9 58.8C160.1 60.6 165.1 63.1 169.1 65.1C173.1 67.1 176.4 68.6 179.7 70.6C183.0 72.6 185.7 74.8 189.0 77.0C192.3 79.2 196.9 81.7 199.6 83.8C202.2 85.9 204.0 88.6 204.9 89.6"/><path class="l" d="M102.2 56.0C102.8 55.8 104.7 55.2 106.0 54.9C107.3 54.6 109.5 54.4 110.2 54.3"/><path class="l" d="M64.0 83.0C65.3 84.5 69.3 88.7 72.0 91.9C74.7 95.2 77.5 99.1 79.9 102.5C82.3 105.9 84.5 109.7 86.5 112.4C88.5 115.2 89.8 117.2 91.8 119.0C93.8 120.8 96.4 121.8 98.4 123.0C100.4 124.2 102.2 124.8 103.7 126.3C105.2 127.8 105.9 130.6 107.7 132.3C109.5 134.0 112.1 135.6 114.3 136.3C116.5 137.0 119.1 137.0 121.0 136.3C122.9 135.6 124.8 133.0 125.6 132.3"/><path class="m" d="M86.5 90.3C86.4 89.0 86.5 88.5 87.2 87.2C87.9 85.9 88.6 83.9 90.5 82.3C92.4 80.7 95.3 78.8 98.4 77.7C101.5 76.6 105.5 75.9 109.0 75.4C112.5 74.9 113.8 74.8 119.6 74.6C125.4 74.4 137.3 74.2 144.0 74.4C150.7 74.6 154.7 75.1 160.0 75.6C165.3 76.1 171.0 76.8 176.0 77.6C181.0 78.4 186.5 79.7 190.0 80.5C193.5 81.3 195.0 81.7 197.0 82.6C199.0 83.5 200.8 84.5 202.2 85.9C203.6 87.3 204.8 89.2 205.5 91.2C206.2 93.2 206.4 94.6 206.6 97.9C206.8 101.2 207.2 108.2 206.9 111.1C206.6 114.0 205.8 113.9 204.9 115.1C204.0 116.2 202.6 117.1 201.5 118.0C200.4 118.9 200.0 120.2 198.3 120.4C196.7 120.6 194.0 118.8 191.6 119.0C189.2 119.2 188.1 120.8 183.7 121.7C179.3 122.6 172.3 124.1 165.0 124.5C157.7 124.9 147.5 124.8 140.0 124.0C132.5 123.2 124.9 121.0 120.0 120.0C115.1 119.0 113.3 118.5 110.4 117.7C107.5 116.9 105.0 116.3 102.4 115.4C99.8 114.5 96.7 114.0 95.0 112.2C93.3 110.4 93.3 107.7 92.1 104.8C90.9 101.9 88.9 97.2 88.0 94.8C87.1 92.4 86.6 91.6 86.5 90.3Z"/><path class="w" d="M86.5 90.3C86.4 89.0 86.5 88.5 87.2 87.2C87.9 85.9 88.6 83.9 90.5 82.3C92.4 80.7 95.3 78.8 98.4 77.7C101.5 76.6 105.5 75.9 109.0 75.4C112.5 74.9 113.8 74.8 119.6 74.6C125.4 74.4 137.3 74.2 144.0 74.4C150.7 74.6 154.7 75.1 160.0 75.6C165.3 76.1 171.0 76.8 176.0 77.6C181.0 78.4 186.5 79.7 190.0 80.5C193.5 81.3 195.0 81.7 197.0 82.6C199.0 83.5 200.8 84.5 202.2 85.9C203.6 87.3 204.8 89.2 205.5 91.2C206.2 93.2 207.0 95.8 206.4 97.9C205.8 100.0 204.2 102.0 202.2 103.8C200.2 105.6 197.6 107.0 194.3 108.5C191.0 110.0 186.6 111.8 182.4 113.1C178.2 114.4 172.9 115.6 169.1 116.4C165.3 117.2 164.7 117.5 159.8 117.7C155.0 117.9 146.3 118.0 140.0 117.5C133.7 117.0 126.9 115.6 122.0 114.5C117.1 113.4 113.5 111.8 110.4 110.8C107.4 109.8 105.9 109.4 103.7 108.5C101.5 107.6 99.3 106.8 97.1 105.6C94.9 104.4 92.0 103.0 90.5 101.2C89.0 99.4 88.7 96.6 88.0 94.8C87.3 93.0 86.6 91.6 86.5 90.3Z"/><path class="l" d="M87.4 89.5C87.8 90.2 88.5 92.6 89.7 94.0C90.9 95.4 92.7 96.7 94.6 98.1C96.5 99.5 98.9 101.1 101.3 102.3C103.7 103.5 105.6 104.2 108.7 105.2C111.8 106.2 114.8 107.5 120.0 108.6C125.2 109.7 133.8 111.1 140.0 111.6C146.2 112.1 152.3 112.1 157.2 111.8C162.0 111.5 164.9 110.7 169.1 109.8C173.3 108.9 178.0 107.8 182.4 106.5C186.8 105.2 192.1 103.5 195.6 101.8C199.1 100.1 201.8 98.3 203.5 96.5C205.2 94.7 205.2 92.1 205.5 91.2"/><path class="l" d="M206.6 110.8C206.3 111.0 205.0 111.4 204.6 112.0C204.2 112.6 204.2 113.7 204.4 114.2C204.6 114.7 205.4 115.0 205.6 115.2"/><path class="g" d="M120.2 77.4L154.4 79.7Q155.9 79.9 155.3 81.3L146.5 101.6Q145.9 103 144.3 102.8L109 99.1Q107.3 98.9 108.1 97.4L118.2 78.4Q118.8 77.3 120.2 77.4Z"/><path class="w" d="M132.3 82.4L147.7 83.9L141.2 98.8L125.8 96.8Z"/><ellipse class="w" cx="125.8" cy="83.9" rx="3.5" ry="2.2" transform="rotate(-8 125.8 83.9)"/><ellipse class="w" cx="123.8" cy="88.9" rx="3.5" ry="2.2" transform="rotate(-8 123.8 88.9)"/><ellipse class="w" cx="121.4" cy="94.3" rx="3.5" ry="2.2" transform="rotate(-8 121.4 94.3)"/><ellipse class="w" cx="170.7" cy="89.8" rx="14.4" ry="8.9" transform="rotate(2 170.7 89.8)"/><path class="m" d="M158.3 84.6L158.2 89.4A13 5 0 0 0 184.3 89.4L184.2 84.6Z" style="fill:#a9abae"/><path class="l" d="M158.5 86.3L158.5 89.9" style="stroke-width:0.8"/><path class="l" d="M159.1 87.2L159.1 90.8" style="stroke-width:0.8"/><path class="l" d="M160.2 88.0L160.2 91.6" style="stroke-width:0.8"/><path class="l" d="M161.6 88.7L161.6 92.3" style="stroke-width:0.8"/><path class="l" d="M163.4 89.3L163.4 92.9" style="stroke-width:0.8"/><path class="l" d="M165.5 89.8L165.5 93.4" style="stroke-width:0.8"/><path class="l" d="M167.7 90.1L167.7 93.7" style="stroke-width:0.8"/><path class="l" d="M170.1 90.3L170.1 93.9" style="stroke-width:0.8"/><path class="l" d="M172.4 90.3L172.4 93.9" style="stroke-width:0.8"/><path class="l" d="M174.8 90.1L174.8 93.7" style="stroke-width:0.8"/><path class="l" d="M177.0 89.8L177.0 93.4" style="stroke-width:0.8"/><path class="l" d="M179.1 89.3L179.1 92.9" style="stroke-width:0.8"/><path class="l" d="M180.9 88.7L180.9 92.3" style="stroke-width:0.8"/><path class="l" d="M182.3 88.0L182.3 91.6" style="stroke-width:0.8"/><path class="l" d="M183.4 87.2L183.4 90.8" style="stroke-width:0.8"/><path class="l" d="M184.0 86.3L184.0 89.9" style="stroke-width:0.8"/><ellipse class="m" cx="171.1" cy="83.2" rx="11.9" ry="5.6" style="fill:#b1b3b6"/><path class="sn" d="M110.6 109.1C110.8 106.1 110.8 107.0 111.3 106.3C111.8 105.5 112.5 105.0 113.4 104.6C114.3 104.2 115.6 103.8 116.6 103.8C117.6 103.8 118.8 104.1 119.6 104.6C120.4 105.1 121.1 105.9 121.6 106.8C122.1 107.7 122.1 108.1 122.4 110.0C122.7 111.9 122.8 115.0 123.4 118.0C124.0 121.0 125.3 125.5 125.8 128.0C126.3 130.5 127.0 131.6 126.2 133.0C125.4 134.4 123.0 136.0 121.0 136.6C119.0 137.2 116.0 137.2 114.3 136.6C112.6 136.0 111.2 135.0 110.6 133.0C109.9 131.0 110.4 128.4 110.4 124.4C110.4 120.4 110.4 112.1 110.6 109.1Z"/><path class="l" d="M110.4 124.4C110.4 123.0 110.4 118.5 110.4 116.0C110.4 113.5 110.4 110.7 110.6 109.1C110.8 107.5 110.8 107.0 111.3 106.3C111.8 105.5 112.5 105.0 113.4 104.6C114.3 104.2 115.6 103.8 116.6 103.8C117.6 103.8 118.8 104.1 119.6 104.6C120.4 105.1 121.1 105.9 121.6 106.8C122.1 107.7 122.1 108.1 122.4 110.0C122.7 111.9 122.8 115.0 123.4 118.0C124.0 121.0 125.3 125.8 125.8 128.0C126.3 130.2 126.3 130.9 126.4 131.5"/><path class="l" d="M103.7 126.3C104.4 127.3 106.6 130.9 107.7 132.3C108.8 133.7 109.5 134.1 110.6 134.8C111.7 135.5 112.6 136.2 114.3 136.5C116.0 136.8 119.2 136.9 121.0 136.5C122.8 136.1 123.9 134.7 124.8 133.8C125.7 132.9 126.1 131.5 126.4 131.0"/><path class="s" d="M122.6 109.0C122.8 107.3 123.1 107.1 123.8 106.3C124.5 105.5 125.5 104.7 126.5 104.2C127.5 103.8 128.8 103.4 130.0 103.6C131.2 103.8 132.5 104.5 133.5 105.4C134.5 106.3 135.1 106.8 136.0 108.8C136.9 110.8 137.7 114.8 138.8 117.7C139.9 120.6 141.2 122.9 142.6 126.0C144.0 129.1 146.3 134.1 147.5 136.5C148.7 138.9 150.6 139.0 150.0 140.2C149.4 141.3 146.0 142.8 144.0 143.4C142.0 144.0 140.3 144.3 138.2 143.8C136.1 143.3 133.5 142.3 131.5 140.6C129.5 138.9 127.5 136.4 126.3 133.6C125.0 130.8 124.7 126.9 124.0 124.0C123.3 121.1 122.5 118.9 122.3 116.4C122.1 113.9 122.3 110.7 122.6 109.0Z"/><path class="s" d="M164.2 121.0C164.7 119.3 166.4 117.8 168.2 116.9C170.0 116.1 173.1 115.6 175.2 115.9C177.3 116.2 179.4 117.3 181.0 118.6C182.6 119.9 184.1 122.0 184.5 123.8C184.9 125.6 184.3 127.9 183.3 129.6C182.3 131.2 180.4 132.8 178.7 133.7C177.0 134.6 174.7 135.0 172.9 134.8C171.2 134.6 169.5 133.8 168.2 132.5C166.9 131.2 165.7 128.9 165.0 127.0C164.3 125.1 163.7 122.7 164.2 121.0Z"/><path class="s" d="M139.4 110.6C140.0 109.4 140.7 108.2 142.0 107.4C143.3 106.6 145.7 106.0 147.2 105.8C148.7 105.6 149.9 105.8 151.0 106.2C152.1 106.6 152.5 106.4 153.6 108.0C154.7 109.6 156.1 112.5 157.8 115.7C159.5 118.9 162.1 124.0 163.6 127.3C165.1 130.6 166.9 133.3 167.1 135.4C167.3 137.5 166.5 138.8 165.0 140.0C163.5 141.2 160.2 142.5 158.0 142.6C155.8 142.7 153.6 141.8 152.0 140.8C150.4 139.8 149.7 138.3 148.5 136.5C147.3 134.7 146.1 132.4 145.0 130.0C143.9 127.6 143.1 124.6 142.0 122.0C140.9 119.4 139.1 116.3 138.7 114.4C138.3 112.5 138.8 111.8 139.4 110.6Z"/><path class="w" d="M113.3 106.6Q113.2 110.8 115.4 113.8Q117.6 116.2 119.8 114.6Q121.8 112.6 121.7 108.4Q121.4 105.6 118.6 104.8Q115.2 104.4 113.3 106.6Z"/><ellipse class="w" cx="130.2" cy="111.0" rx="5.7" ry="6.6" transform="rotate(-14 130.2 111)"/><path class="w" d="M142.2 114.6C142.6 113.5 144.3 112.2 145.5 111.4C146.7 110.6 148.5 109.7 149.6 109.9C150.7 110.1 151.1 111.4 151.8 112.6C152.5 113.8 153.9 115.8 153.9 117.1C153.9 118.4 152.8 119.7 152.0 120.6C151.2 121.5 150.3 122.3 149.2 122.4C148.1 122.5 146.5 121.9 145.5 121.2C144.5 120.5 143.8 119.1 143.2 118.0C142.6 116.9 141.8 115.7 142.2 114.6Z"/><path class="w" d="M166 123.9L175.8 120.8Q177.9 121.4 177.8 124.2Q177.4 127.6 174.4 129.3Q171.4 130.4 168.8 129Q166.6 127.2 166 123.9Z"/><path class="s" d="M64.0 74.2C65.0 74.8 68.0 76.5 69.8 77.9C71.6 79.3 73.4 81.0 74.8 82.4C76.2 83.9 77.5 85.2 78.1 86.6C78.7 88.0 78.8 89.5 78.5 90.7C78.2 91.9 77.4 92.5 76.4 93.6C75.4 94.7 73.4 96.3 72.3 97.3C71.2 98.3 70.1 98.8 69.8 99.8C69.5 100.8 70.7 101.8 70.6 103.1C70.5 104.3 70.1 105.6 69.0 107.3C67.9 109.0 64.8 112.5 64.0 113.5L64 74.2Z"/><path class="l" d="M64.0 95.2C64.5 95.5 66.0 96.4 67.0 97.2C68.0 98.0 69.3 99.4 69.8 99.8"/><path class="s" d="M64.0 51.5C65.7 52.3 70.6 54.6 73.9 56.4C77.2 58.2 80.6 60.3 83.9 62.4C87.2 64.5 90.5 66.7 93.8 68.9C97.1 71.1 101.0 73.9 103.7 75.8C106.4 77.7 108.0 79.3 109.7 80.3C111.4 81.3 112.4 81.1 113.7 82.0C115.0 82.9 116.8 84.4 117.6 85.7C118.4 87.0 118.9 88.7 118.6 89.7C118.3 90.7 117.0 91.4 115.6 91.9C114.2 92.4 112.1 92.9 110.4 92.8C108.7 92.7 107.3 92.3 105.4 91.5C103.5 90.7 100.6 88.9 98.8 87.8C97.0 86.7 96.3 85.5 94.6 84.9C92.9 84.4 90.4 84.7 88.8 84.5C87.2 84.3 86.1 84.2 84.7 83.7C83.3 83.2 82.7 82.6 80.6 81.6C78.5 80.6 75.1 79.1 72.3 77.9C69.5 76.7 65.4 74.8 64.0 74.2Z"/><path class="w" d="M108.5 82.2L112.6 80.2Q114.2 80 115.2 81.4L118.3 86.6Q118.8 88.4 117.5 89.6L115.2 91.3Q113.2 91.8 111.8 90.2L108.7 84.8Q108 83.2 108.5 82.2Z"/></g><path class="ar" d="M131.8 179.0L125.1 179.0L125.1 221.6"/><path class="k" d="M117.2 216.6L125.1 220.4L133.0 216.6L125.1 234.2Z"/></g>
<g clip-path="url(#c5)"><g transform="translate(167.2,147)"><path class="sn" d="M64.0 29.0C67.9 20.0 82.1 27.4 87.2 29.3C92.3 31.2 92.0 37.0 94.5 40.6C97.0 44.2 100.4 49.0 102.4 51.2C104.4 53.4 104.6 53.2 106.4 53.8C108.2 54.3 110.3 54.6 113.0 54.5C115.7 54.4 119.0 53.3 122.3 52.9C125.6 52.5 129.3 52.0 132.9 52.2C136.5 52.4 140.2 53.1 144.0 54.2C147.8 55.3 151.7 57.0 155.9 58.8C160.1 60.6 165.1 63.1 169.1 65.1C173.1 67.1 176.4 68.6 179.7 70.6C183.0 72.6 185.7 74.8 189.0 77.0C192.3 79.2 196.9 81.7 199.6 83.8C202.3 85.9 204.9 86.9 205.0 89.6C205.1 92.3 205.8 95.3 200.0 100.0C194.2 104.7 182.3 112.7 170.0 118.0C157.7 123.3 134.2 128.9 126.0 132.0C117.8 135.1 123.0 135.6 121.0 136.3C119.0 137.0 116.5 137.0 114.3 136.3C112.1 135.6 109.5 134.0 107.7 132.3C105.9 130.6 105.2 127.8 103.7 126.3C102.2 124.8 100.4 124.2 98.4 123.0C96.4 121.8 93.8 120.8 91.8 119.0C89.8 117.2 88.5 115.2 86.5 112.4C84.5 109.7 82.3 105.9 79.9 102.5C77.5 99.1 74.7 95.2 72.0 91.9C69.3 88.7 65.3 93.5 64.0 83.0C62.7 72.5 60.1 38.0 64.0 29.0Z"/><path class="l" d="M87.2 29.3C88.4 31.2 92.0 37.0 94.5 40.6C97.0 44.2 100.4 49.0 102.4 51.2C104.4 53.4 104.6 53.2 106.4 53.8C108.2 54.3 110.3 54.6 113.0 54.5C115.7 54.4 119.0 53.3 122.3 52.9C125.6 52.5 129.3 52.0 132.9 52.2C136.5 52.4 140.2 53.1 144.0 54.2C147.8 55.3 151.7 57.0 155.9 58.8C160.1 60.6 165.1 63.1 169.1 65.1C173.1 67.1 176.4 68.6 179.7 70.6C183.0 72.6 185.7 74.8 189.0 77.0C192.3 79.2 196.9 81.7 199.6 83.8C202.2 85.9 204.0 88.6 204.9 89.6"/><path class="l" d="M102.2 56.0C102.8 55.8 104.7 55.2 106.0 54.9C107.3 54.6 109.5 54.4 110.2 54.3"/><path class="l" d="M64.0 83.0C65.3 84.5 69.3 88.7 72.0 91.9C74.7 95.2 77.5 99.1 79.9 102.5C82.3 105.9 84.5 109.7 86.5 112.4C88.5 115.2 89.8 117.2 91.8 119.0C93.8 120.8 96.4 121.8 98.4 123.0C100.4 124.2 102.2 124.8 103.7 126.3C105.2 127.8 105.9 130.6 107.7 132.3C109.5 134.0 112.1 135.6 114.3 136.3C116.5 137.0 119.1 137.0 121.0 136.3C122.9 135.6 124.8 133.0 125.6 132.3"/><path class="m" d="M86.5 90.3C86.4 89.0 86.5 88.5 87.2 87.2C87.9 85.9 88.6 83.9 90.5 82.3C92.4 80.7 95.3 78.8 98.4 77.7C101.5 76.6 105.5 75.9 109.0 75.4C112.5 74.9 113.8 74.8 119.6 74.6C125.4 74.4 137.3 74.2 144.0 74.4C150.7 74.6 154.7 75.1 160.0 75.6C165.3 76.1 171.0 76.8 176.0 77.6C181.0 78.4 186.5 79.7 190.0 80.5C193.5 81.3 195.0 81.7 197.0 82.6C199.0 83.5 200.8 84.5 202.2 85.9C203.6 87.3 204.8 89.2 205.5 91.2C206.2 93.2 206.4 94.6 206.6 97.9C206.8 101.2 207.2 108.2 206.9 111.1C206.6 114.0 205.8 113.9 204.9 115.1C204.0 116.2 202.6 117.1 201.5 118.0C200.4 118.9 200.0 120.2 198.3 120.4C196.7 120.6 194.0 118.8 191.6 119.0C189.2 119.2 188.1 120.8 183.7 121.7C179.3 122.6 172.3 124.1 165.0 124.5C157.7 124.9 147.5 124.8 140.0 124.0C132.5 123.2 124.9 121.0 120.0 120.0C115.1 119.0 113.3 118.5 110.4 117.7C107.5 116.9 105.0 116.3 102.4 115.4C99.8 114.5 96.7 114.0 95.0 112.2C93.3 110.4 93.3 107.7 92.1 104.8C90.9 101.9 88.9 97.2 88.0 94.8C87.1 92.4 86.6 91.6 86.5 90.3Z"/><path class="w" d="M86.5 90.3C86.4 89.0 86.5 88.5 87.2 87.2C87.9 85.9 88.6 83.9 90.5 82.3C92.4 80.7 95.3 78.8 98.4 77.7C101.5 76.6 105.5 75.9 109.0 75.4C112.5 74.9 113.8 74.8 119.6 74.6C125.4 74.4 137.3 74.2 144.0 74.4C150.7 74.6 154.7 75.1 160.0 75.6C165.3 76.1 171.0 76.8 176.0 77.6C181.0 78.4 186.5 79.7 190.0 80.5C193.5 81.3 195.0 81.7 197.0 82.6C199.0 83.5 200.8 84.5 202.2 85.9C203.6 87.3 204.8 89.2 205.5 91.2C206.2 93.2 207.0 95.8 206.4 97.9C205.8 100.0 204.2 102.0 202.2 103.8C200.2 105.6 197.6 107.0 194.3 108.5C191.0 110.0 186.6 111.8 182.4 113.1C178.2 114.4 172.9 115.6 169.1 116.4C165.3 117.2 164.7 117.5 159.8 117.7C155.0 117.9 146.3 118.0 140.0 117.5C133.7 117.0 126.9 115.6 122.0 114.5C117.1 113.4 113.5 111.8 110.4 110.8C107.4 109.8 105.9 109.4 103.7 108.5C101.5 107.6 99.3 106.8 97.1 105.6C94.9 104.4 92.0 103.0 90.5 101.2C89.0 99.4 88.7 96.6 88.0 94.8C87.3 93.0 86.6 91.6 86.5 90.3Z"/><path class="l" d="M87.4 89.5C87.8 90.2 88.5 92.6 89.7 94.0C90.9 95.4 92.7 96.7 94.6 98.1C96.5 99.5 98.9 101.1 101.3 102.3C103.7 103.5 105.6 104.2 108.7 105.2C111.8 106.2 114.8 107.5 120.0 108.6C125.2 109.7 133.8 111.1 140.0 111.6C146.2 112.1 152.3 112.1 157.2 111.8C162.0 111.5 164.9 110.7 169.1 109.8C173.3 108.9 178.0 107.8 182.4 106.5C186.8 105.2 192.1 103.5 195.6 101.8C199.1 100.1 201.8 98.3 203.5 96.5C205.2 94.7 205.2 92.1 205.5 91.2"/><path class="l" d="M206.6 110.8C206.3 111.0 205.0 111.4 204.6 112.0C204.2 112.6 204.2 113.7 204.4 114.2C204.6 114.7 205.4 115.0 205.6 115.2"/><path class="g" d="M120.2 77.4L154.4 79.7Q155.9 79.9 155.3 81.3L146.5 101.6Q145.9 103 144.3 102.8L109 99.1Q107.3 98.9 108.1 97.4L118.2 78.4Q118.8 77.3 120.2 77.4Z"/><path class="w" d="M132.3 82.4L147.7 83.9L141.2 98.8L125.8 96.8Z"/><ellipse class="w" cx="125.8" cy="83.9" rx="3.5" ry="2.2" transform="rotate(-8 125.8 83.9)"/><ellipse class="w" cx="123.8" cy="88.9" rx="3.5" ry="2.2" transform="rotate(-8 123.8 88.9)"/><ellipse class="w" cx="121.4" cy="94.3" rx="3.5" ry="2.2" transform="rotate(-8 121.4 94.3)"/><ellipse class="w" cx="170.7" cy="89.8" rx="14.4" ry="8.9" transform="rotate(2 170.7 89.8)"/><path class="m" d="M158.3 84.6L158.2 89.4A13 5 0 0 0 184.3 89.4L184.2 84.6Z" style="fill:#a9abae"/><path class="l" d="M158.5 86.3L158.5 89.9" style="stroke-width:0.8"/><path class="l" d="M159.1 87.2L159.1 90.8" style="stroke-width:0.8"/><path class="l" d="M160.2 88.0L160.2 91.6" style="stroke-width:0.8"/><path class="l" d="M161.6 88.7L161.6 92.3" style="stroke-width:0.8"/><path class="l" d="M163.4 89.3L163.4 92.9" style="stroke-width:0.8"/><path class="l" d="M165.5 89.8L165.5 93.4" style="stroke-width:0.8"/><path class="l" d="M167.7 90.1L167.7 93.7" style="stroke-width:0.8"/><path class="l" d="M170.1 90.3L170.1 93.9" style="stroke-width:0.8"/><path class="l" d="M172.4 90.3L172.4 93.9" style="stroke-width:0.8"/><path class="l" d="M174.8 90.1L174.8 93.7" style="stroke-width:0.8"/><path class="l" d="M177.0 89.8L177.0 93.4" style="stroke-width:0.8"/><path class="l" d="M179.1 89.3L179.1 92.9" style="stroke-width:0.8"/><path class="l" d="M180.9 88.7L180.9 92.3" style="stroke-width:0.8"/><path class="l" d="M182.3 88.0L182.3 91.6" style="stroke-width:0.8"/><path class="l" d="M183.4 87.2L183.4 90.8" style="stroke-width:0.8"/><path class="l" d="M184.0 86.3L184.0 89.9" style="stroke-width:0.8"/><ellipse class="m" cx="171.1" cy="83.2" rx="11.9" ry="5.6" style="fill:#b1b3b6"/><path class="sn" d="M110.6 109.1C110.8 106.1 110.8 107.0 111.3 106.3C111.8 105.5 112.5 105.0 113.4 104.6C114.3 104.2 115.6 103.8 116.6 103.8C117.6 103.8 118.8 104.1 119.6 104.6C120.4 105.1 121.1 105.9 121.6 106.8C122.1 107.7 122.1 108.1 122.4 110.0C122.7 111.9 122.8 115.0 123.4 118.0C124.0 121.0 125.3 125.5 125.8 128.0C126.3 130.5 127.0 131.6 126.2 133.0C125.4 134.4 123.0 136.0 121.0 136.6C119.0 137.2 116.0 137.2 114.3 136.6C112.6 136.0 111.2 135.0 110.6 133.0C109.9 131.0 110.4 128.4 110.4 124.4C110.4 120.4 110.4 112.1 110.6 109.1Z"/><path class="l" d="M110.4 124.4C110.4 123.0 110.4 118.5 110.4 116.0C110.4 113.5 110.4 110.7 110.6 109.1C110.8 107.5 110.8 107.0 111.3 106.3C111.8 105.5 112.5 105.0 113.4 104.6C114.3 104.2 115.6 103.8 116.6 103.8C117.6 103.8 118.8 104.1 119.6 104.6C120.4 105.1 121.1 105.9 121.6 106.8C122.1 107.7 122.1 108.1 122.4 110.0C122.7 111.9 122.8 115.0 123.4 118.0C124.0 121.0 125.3 125.8 125.8 128.0C126.3 130.2 126.3 130.9 126.4 131.5"/><path class="l" d="M103.7 126.3C104.4 127.3 106.6 130.9 107.7 132.3C108.8 133.7 109.5 134.1 110.6 134.8C111.7 135.5 112.6 136.2 114.3 136.5C116.0 136.8 119.2 136.9 121.0 136.5C122.8 136.1 123.9 134.7 124.8 133.8C125.7 132.9 126.1 131.5 126.4 131.0"/><path class="s" d="M122.6 109.0C122.8 107.3 123.1 107.1 123.8 106.3C124.5 105.5 125.5 104.7 126.5 104.2C127.5 103.8 128.8 103.4 130.0 103.6C131.2 103.8 132.5 104.5 133.5 105.4C134.5 106.3 135.1 106.8 136.0 108.8C136.9 110.8 137.7 114.8 138.8 117.7C139.9 120.6 141.2 122.9 142.6 126.0C144.0 129.1 146.3 134.1 147.5 136.5C148.7 138.9 150.6 139.0 150.0 140.2C149.4 141.3 146.0 142.8 144.0 143.4C142.0 144.0 140.3 144.3 138.2 143.8C136.1 143.3 133.5 142.3 131.5 140.6C129.5 138.9 127.5 136.4 126.3 133.6C125.0 130.8 124.7 126.9 124.0 124.0C123.3 121.1 122.5 118.9 122.3 116.4C122.1 113.9 122.3 110.7 122.6 109.0Z"/><path class="s" d="M164.2 121.0C164.7 119.3 166.4 117.8 168.2 116.9C170.0 116.1 173.1 115.6 175.2 115.9C177.3 116.2 179.4 117.3 181.0 118.6C182.6 119.9 184.1 122.0 184.5 123.8C184.9 125.6 184.3 127.9 183.3 129.6C182.3 131.2 180.4 132.8 178.7 133.7C177.0 134.6 174.7 135.0 172.9 134.8C171.2 134.6 169.5 133.8 168.2 132.5C166.9 131.2 165.7 128.9 165.0 127.0C164.3 125.1 163.7 122.7 164.2 121.0Z"/><path class="s" d="M139.4 110.6C140.0 109.4 140.7 108.2 142.0 107.4C143.3 106.6 145.7 106.0 147.2 105.8C148.7 105.6 149.9 105.8 151.0 106.2C152.1 106.6 152.5 106.4 153.6 108.0C154.7 109.6 156.1 112.5 157.8 115.7C159.5 118.9 162.1 124.0 163.6 127.3C165.1 130.6 166.9 133.3 167.1 135.4C167.3 137.5 166.5 138.8 165.0 140.0C163.5 141.2 160.2 142.5 158.0 142.6C155.8 142.7 153.6 141.8 152.0 140.8C150.4 139.8 149.7 138.3 148.5 136.5C147.3 134.7 146.1 132.4 145.0 130.0C143.9 127.6 143.1 124.6 142.0 122.0C140.9 119.4 139.1 116.3 138.7 114.4C138.3 112.5 138.8 111.8 139.4 110.6Z"/><path class="w" d="M113.3 106.6Q113.2 110.8 115.4 113.8Q117.6 116.2 119.8 114.6Q121.8 112.6 121.7 108.4Q121.4 105.6 118.6 104.8Q115.2 104.4 113.3 106.6Z"/><ellipse class="w" cx="130.2" cy="111.0" rx="5.7" ry="6.6" transform="rotate(-14 130.2 111)"/><path class="w" d="M142.2 114.6C142.6 113.5 144.3 112.2 145.5 111.4C146.7 110.6 148.5 109.7 149.6 109.9C150.7 110.1 151.1 111.4 151.8 112.6C152.5 113.8 153.9 115.8 153.9 117.1C153.9 118.4 152.8 119.7 152.0 120.6C151.2 121.5 150.3 122.3 149.2 122.4C148.1 122.5 146.5 121.9 145.5 121.2C144.5 120.5 143.8 119.1 143.2 118.0C142.6 116.9 141.8 115.7 142.2 114.6Z"/><path class="w" d="M166 123.9L175.8 120.8Q177.9 121.4 177.8 124.2Q177.4 127.6 174.4 129.3Q171.4 130.4 168.8 129Q166.6 127.2 166 123.9Z"/><path class="l" d="M133.4 88.2L134.6 84.6L140.6 85.2L139.6 88.8M135 90.6L138.4 91" style="stroke-width:0.8"/><g transform="translate(3,-8)"><path class="s" d="M64.0 74.2C65.0 74.8 68.0 76.5 69.8 77.9C71.6 79.3 73.4 81.0 74.8 82.4C76.2 83.9 77.5 85.2 78.1 86.6C78.7 88.0 78.8 89.5 78.5 90.7C78.2 91.9 77.4 92.5 76.4 93.6C75.4 94.7 73.4 96.3 72.3 97.3C71.2 98.3 70.1 98.8 69.8 99.8C69.5 100.8 70.7 101.8 70.6 103.1C70.5 104.3 70.1 105.6 69.0 107.3C67.9 109.0 64.8 112.5 64.0 113.5L64 74.2Z"/><path class="l" d="M64.0 95.2C64.5 95.5 66.0 96.4 67.0 97.2C68.0 98.0 69.3 99.4 69.8 99.8"/><path class="s" d="M64.0 51.5C65.7 52.3 70.6 54.6 73.9 56.4C77.2 58.2 80.6 60.3 83.9 62.4C87.2 64.5 90.5 66.7 93.8 68.9C97.1 71.1 101.0 73.9 103.7 75.8C106.4 77.7 108.0 79.3 109.7 80.3C111.4 81.3 112.4 81.1 113.7 82.0C115.0 82.9 116.8 84.4 117.6 85.7C118.4 87.0 118.9 88.7 118.6 89.7C118.3 90.7 117.0 91.4 115.6 91.9C114.2 92.4 112.1 92.9 110.4 92.8C108.7 92.7 107.3 92.3 105.4 91.5C103.5 90.7 100.6 88.9 98.8 87.8C97.0 86.7 96.3 85.5 94.6 84.9C92.9 84.4 90.4 84.7 88.8 84.5C87.2 84.3 86.1 84.2 84.7 83.7C83.3 83.2 82.7 82.6 80.6 81.6C78.5 80.6 75.1 79.1 72.3 77.9C69.5 76.7 65.4 74.8 64.0 74.2Z"/><path class="w" d="M108.5 82.2L112.6 80.2Q114.2 80 115.2 81.4L118.3 86.6Q118.8 88.4 117.5 89.6L115.2 91.3Q113.2 91.8 111.8 90.2L108.7 84.8Q108 83.2 108.5 82.2Z"/></g></g><path class="ar" d="M304.8 168.0L293.6 168.0L293.6 216.7"/><path class="k" d="M286.1 211.7L293.6 215.5L301.1 211.7L293.6 229.9Z"/></g>
<g clip-path="url(#c6)"><g transform="translate(328,-146)"><g transform="translate(-8.3,304.4)"><path class="m" d="M86.6 92.0C86.2 89.5 86.5 89.5 86.9 88.0C87.3 86.5 87.6 84.4 88.9 82.8C90.2 81.2 92.0 79.5 94.8 78.2C97.5 76.9 101.4 75.8 105.4 75.1C109.4 74.4 113.6 74.3 118.7 74.2C123.8 74.1 129.6 74.4 135.9 74.6C142.2 74.8 151.6 75.1 156.3 75.5C161.0 75.9 158.9 76.2 164.2 76.9C169.5 77.6 182.5 78.5 188.0 79.5C193.5 80.5 194.9 81.6 197.3 82.8C199.7 84.0 201.2 85.2 202.6 86.8C204.0 88.3 204.9 90.1 205.5 92.1C206.1 94.1 206.2 96.5 206.3 98.7C206.4 100.9 206.4 103.2 206.3 105.3C206.2 107.4 205.9 110.2 205.5 111.3C205.1 112.4 203.9 111.3 203.6 112.0C203.3 112.7 203.8 114.5 203.6 115.3C203.4 116.1 203.4 115.9 202.6 116.6C201.8 117.3 199.9 119.3 198.6 119.6C197.3 119.9 197.0 118.4 194.6 118.6C192.2 118.8 188.0 120.2 184.0 120.6C180.0 121.0 177.4 121.1 170.8 121.2C164.2 121.3 151.2 121.1 144.3 121.0C137.4 120.9 134.0 121.0 129.3 120.6C124.6 120.2 120.4 119.5 116.0 118.6C111.6 117.7 106.5 116.5 102.8 115.3C99.0 114.1 95.7 113.4 93.5 111.3C91.3 109.2 90.7 105.9 89.5 102.7C88.3 99.5 87.0 94.5 86.6 92.0Z"/><path class="w" d="M86.6 92.0C86.4 90.4 86.5 89.5 86.9 88.0C87.3 86.5 87.6 84.4 88.9 82.8C90.2 81.2 92.0 79.5 94.8 78.2C97.5 76.9 101.4 75.8 105.4 75.1C109.4 74.4 113.6 74.3 118.7 74.2C123.8 74.1 129.6 74.4 135.9 74.6C142.2 74.8 151.6 75.1 156.3 75.5C161.0 75.9 158.9 76.2 164.2 76.9C169.5 77.6 182.5 78.5 188.0 79.5C193.5 80.5 194.9 81.6 197.3 82.8C199.7 84.0 201.2 85.2 202.6 86.8C204.0 88.3 204.9 90.1 205.5 92.1C206.1 94.1 206.6 97.3 206.3 98.7C206.0 100.1 205.4 99.4 203.9 100.3C202.4 101.2 200.6 102.5 197.3 104.0C194.0 105.5 188.4 107.9 184.0 109.3C179.6 110.7 175.2 111.4 170.8 112.2C166.4 113.0 161.9 113.8 157.5 114.3C153.1 114.8 149.0 114.9 144.3 114.9C139.6 114.9 134.0 114.8 129.3 114.3C124.6 113.8 120.4 113.0 116.0 112.0C111.6 111.0 107.0 109.7 102.8 108.0C98.6 106.3 93.3 103.8 90.9 102.0C88.5 100.2 88.9 99.1 88.2 97.4C87.5 95.7 86.8 93.6 86.6 92.0Z"/><path class="l" d="M87.6 90.8C88.6 91.9 90.5 95.2 93.5 97.4C96.5 99.6 101.2 102.2 105.4 104.0C109.6 105.8 114.3 107.0 118.7 108.0C123.1 109.0 127.5 109.6 131.9 110.0C136.3 110.4 140.9 110.6 145.2 110.6C149.5 110.6 153.2 110.4 157.5 110.0C161.8 109.6 166.4 108.9 170.8 108.0C175.2 107.1 179.6 106.2 184.0 104.7C188.4 103.2 194.0 100.5 197.3 98.7C200.6 96.9 202.6 95.2 203.9 94.1C205.2 93.0 205.2 92.3 205.4 92.0"/><g transform="translate(-0.2,-1.2)"><path class="g" d="M120.2 77.4L154.4 79.7Q155.9 79.9 155.3 81.3L146.5 101.6Q145.9 103 144.3 102.8L109 99.1Q107.3 98.9 108.1 97.4L118.2 78.4Q118.8 77.3 120.2 77.4Z"/><path class="w" d="M132.3 82.4L147.7 83.9L141.2 98.8L125.8 96.8Z"/><ellipse class="w" cx="125.8" cy="83.9" rx="3.5" ry="2.2" transform="rotate(-8 125.8 83.9)"/><ellipse class="w" cx="123.8" cy="88.9" rx="3.5" ry="2.2" transform="rotate(-8 123.8 88.9)"/><ellipse class="w" cx="121.4" cy="94.3" rx="3.5" ry="2.2" transform="rotate(-8 121.4 94.3)"/></g><g transform="translate(-0.6,-0.1)"><ellipse class="w" cx="175.4" cy="88.4" rx="18.4" ry="10.4" transform="rotate(2 175.4 88.4)"/><ellipse class="w" cx="175.2" cy="87.8" rx="16.5" ry="8.6" transform="rotate(2 175.2 87.8)"/></g></g><path class="mn" d="M155.2 388.0L154.4 396.6A11.2 4.6 0 0 0 176.8 396.6L176.0 388.0Z" style="fill:#dcddde"/><path d="M154.6 395.2A11.2 4.6 0 0 0 176.6 395.2" style="fill:none;stroke:#9a9c9f;stroke-width:3.2"/><path class="l" d="M154.4 396.8A11.2 4.6 0 0 0 176.8 396.8" style="stroke-width:1.1"/><path class="l" d="M155.2 388.0L154.4 396.6M176.0 388.0L176.8 396.6"/><ellipse class="l" cx="165.6" cy="388.0" rx="10.4" ry="4.4" style="fill:#e4e5e6"/><path class="l" d="M155.3 386.8A10.2 3.4 0 0 1 175.9 386.8"/><path class="l" d="M155.3 386.8A10.2 5.4 0 0 1 175.9 386.8"/></g><ellipse class="s" cx="494.8" cy="228.6" rx="3.3" ry="2.6"/><path class="s" d="M392.0 164.0C396.0 154.7 410.5 165.1 416.2 165.9C421.9 166.7 422.2 167.6 426.1 168.6C430.0 169.6 435.0 170.5 439.4 171.9C443.8 173.3 448.4 175.4 452.6 177.2C456.8 179.0 461.6 181.2 464.5 182.5C467.4 183.8 468.4 183.7 470.0 185.0C471.6 186.3 473.3 188.6 474.3 190.4C475.3 192.2 475.6 193.7 476.0 196.0C476.4 198.3 477.3 201.2 477.0 204.0C476.7 206.8 474.2 210.2 474.4 212.5C474.6 214.8 477.5 216.2 478.4 217.8C479.3 219.4 480.1 220.5 479.7 221.8C479.3 223.1 478.0 224.7 475.8 225.7C473.6 226.7 469.4 227.1 466.5 227.7C463.6 228.3 461.4 228.0 458.5 229.2C455.6 230.3 452.8 233.0 449.0 234.6C445.2 236.2 439.2 237.6 435.7 238.6C432.2 239.6 429.7 239.7 427.8 240.6C425.9 241.5 426.1 243.3 424.5 243.9C422.9 244.5 420.8 244.6 418.5 243.9C416.2 243.2 413.2 241.9 410.6 239.9C408.0 237.9 405.0 234.3 402.6 231.9C400.2 229.5 397.8 227.0 396.0 225.3C394.2 223.7 392.7 232.2 392.0 222.0C391.3 211.8 388.0 173.3 392.0 164.0Z"/><path class="l" d="M424.1 183.8C425.3 184.0 428.8 183.9 431.4 185.1C433.9 186.3 437.0 189.2 439.4 191.1C441.8 193.0 443.6 194.4 446.0 196.4C448.4 198.4 451.2 201.2 453.9 203.0C456.5 204.8 459.2 205.8 461.9 207.0C464.6 208.2 468.6 209.5 470.0 210.0"/><path class="l" d="M424.1 183.8C424.9 184.7 427.1 187.7 428.8 189.1C430.5 190.5 432.3 191.7 434.1 192.4C435.9 193.1 437.9 192.8 439.4 193.1C440.9 193.4 442.0 193.1 443.3 194.4C444.6 195.7 445.8 199.2 447.3 201.0C448.9 202.8 450.6 204.1 452.6 205.0C454.6 205.9 456.8 205.6 459.2 206.3C461.6 207.0 464.7 208.1 467.2 209.0C469.7 209.9 472.9 211.5 474.0 212.0"/><path class="l" d="M439.7 229.0C443.2 228.9 455.8 228.9 460.9 228.6C465.9 228.3 468.5 227.3 470.0 227.0"/><path class="l" d="M440.0 191.3C442.2 192.9 448.8 197.7 453.2 200.6C457.6 203.5 463.0 206.5 466.5 208.5C470.0 210.5 473.1 211.8 474.4 212.5"/><path class="w" d="M473.4 192.4L483.7 197.6L493 206.6L505.4 212L505.6 220L501.2 225.4L493 221.3L483.7 217.3L473.1 212Q471.6 202 473.4 192.4Z"/><path class="w" d="M475.8 198.8C476.9 198.5 479.1 201.5 480.2 203.0C481.3 204.5 482.1 206.3 482.4 207.6C482.7 208.9 482.7 209.9 482.0 210.6C481.3 211.3 479.6 211.9 478.4 211.8C477.2 211.7 475.5 211.1 474.6 210.0C473.8 208.9 473.1 206.9 473.3 205.0C473.5 203.1 474.7 199.1 475.8 198.8Z"/><ellipse class="l" cx="486.6" cy="204.4" rx="2.6" ry="3.6" transform="rotate(-30 486.6 204.4)"/><ellipse class="l" cx="486.8" cy="204.8" rx="1.4" ry="2.1" transform="rotate(-30 486.8 204.8)"/><ellipse class="l" cx="485.6" cy="211.8" rx="3.0" ry="2.2" transform="rotate(15 485.6 211.8)"/><ellipse class="l" cx="485.8" cy="212.0" rx="1.6" ry="1.1" transform="rotate(15 485.8 212)"/><path class="l" d="M473.6 192.6C474.3 193.5 476.4 196.4 478.0 198.0C479.6 199.6 481.3 200.7 483.0 202.0C484.7 203.3 487.2 205.3 488.0 206.0"/><path class="s" d="M492.1 154.0C483.4 155.2 492.1 158.8 491.5 161.3C490.9 163.8 488.9 166.3 488.2 169.2C487.5 172.1 487.9 175.6 487.5 178.5C487.1 181.4 486.1 183.8 485.5 186.5C484.9 189.2 484.1 192.3 484.2 194.4C484.3 196.5 485.0 197.4 486.0 199.0C487.0 200.6 488.8 202.5 490.0 204.0C491.2 205.5 492.9 206.5 493.4 208.0C493.9 209.5 493.0 211.3 493.2 213.0C493.4 214.7 493.4 217.3 494.8 218.3C496.2 219.3 499.7 219.5 501.4 218.9C503.1 218.3 503.7 215.2 505.1 215.0C506.5 214.8 508.2 216.7 510.0 217.5C511.8 218.3 513.2 218.7 516.0 219.6C518.8 220.5 523.3 222.1 526.6 222.9C529.9 223.7 533.7 225.6 535.8 224.2C537.9 222.8 537.8 217.0 539.2 214.3C540.6 211.6 543.2 218.1 544.0 208.0C544.8 197.9 552.6 163.0 544.0 154.0C535.4 145.0 500.9 152.8 492.1 154.0Z"/><path class="l" d="M506.4 215.6C506.7 214.5 508.1 211.2 508.0 209.0C507.9 206.8 506.4 205.1 506.0 202.4C505.6 199.8 505.1 196.4 505.4 193.1C505.7 189.8 506.9 185.4 508.0 182.5C509.1 179.6 510.7 177.5 512.0 175.9C513.3 174.3 515.3 173.6 516.0 173.2"/><path class="l" d="M507.4 184.5C508.4 186.2 511.3 191.7 513.3 194.4C515.3 197.2 518.3 199.9 519.3 201.0"/><path class="l" d="M520.0 201.4C520.2 200.9 520.6 199.8 521.3 198.4C521.9 197.0 523.7 194.9 523.9 193.1C524.1 191.3 522.8 188.7 522.6 187.8"/><path class="l" d="M508.4 183.4C509.7 183.4 513.6 183.3 516.0 183.2C518.4 183.0 521.5 182.6 522.6 182.5"/><path class="s" d="M516 183.2L522.6 182.5L522.6 187.8L518.6 188.5L516.6 185.8Z"/><path class="w" d="M493.7 207.4C494.6 206.2 497.2 205.8 498.8 206.1C500.4 206.4 502.3 207.6 503.4 209.0C504.4 210.4 505.4 212.7 505.1 214.3C504.8 216.0 503.1 218.2 501.4 218.9C499.7 219.6 496.2 219.3 494.8 218.3C493.4 217.3 493.4 214.8 493.2 213.0C493.0 211.2 492.8 208.6 493.7 207.4Z"/><path class="l" d="M494.4 219.4C495.0 219.8 496.7 221.3 498.0 221.6C499.3 221.9 500.9 221.5 502.0 221.0C503.1 220.5 504.2 219.0 504.6 218.6"/></g>
<g clip-path="url(#c7)"><g transform="translate(-8.3,304.4)"><path class="m" d="M86.6 92.0C86.2 89.5 86.5 89.5 86.9 88.0C87.3 86.5 87.6 84.4 88.9 82.8C90.2 81.2 92.0 79.5 94.8 78.2C97.5 76.9 101.4 75.8 105.4 75.1C109.4 74.4 113.6 74.3 118.7 74.2C123.8 74.1 129.6 74.4 135.9 74.6C142.2 74.8 151.6 75.1 156.3 75.5C161.0 75.9 158.9 76.2 164.2 76.9C169.5 77.6 182.5 78.5 188.0 79.5C193.5 80.5 194.9 81.6 197.3 82.8C199.7 84.0 201.2 85.2 202.6 86.8C204.0 88.3 204.9 90.1 205.5 92.1C206.1 94.1 206.2 96.5 206.3 98.7C206.4 100.9 206.4 103.2 206.3 105.3C206.2 107.4 205.9 110.2 205.5 111.3C205.1 112.4 203.9 111.3 203.6 112.0C203.3 112.7 203.8 114.5 203.6 115.3C203.4 116.1 203.4 115.9 202.6 116.6C201.8 117.3 199.9 119.3 198.6 119.6C197.3 119.9 197.0 118.4 194.6 118.6C192.2 118.8 188.0 120.2 184.0 120.6C180.0 121.0 177.4 121.1 170.8 121.2C164.2 121.3 151.2 121.1 144.3 121.0C137.4 120.9 134.0 121.0 129.3 120.6C124.6 120.2 120.4 119.5 116.0 118.6C111.6 117.7 106.5 116.5 102.8 115.3C99.0 114.1 95.7 113.4 93.5 111.3C91.3 109.2 90.7 105.9 89.5 102.7C88.3 99.5 87.0 94.5 86.6 92.0Z"/><path class="w" d="M86.6 92.0C86.4 90.4 86.5 89.5 86.9 88.0C87.3 86.5 87.6 84.4 88.9 82.8C90.2 81.2 92.0 79.5 94.8 78.2C97.5 76.9 101.4 75.8 105.4 75.1C109.4 74.4 113.6 74.3 118.7 74.2C123.8 74.1 129.6 74.4 135.9 74.6C142.2 74.8 151.6 75.1 156.3 75.5C161.0 75.9 158.9 76.2 164.2 76.9C169.5 77.6 182.5 78.5 188.0 79.5C193.5 80.5 194.9 81.6 197.3 82.8C199.7 84.0 201.2 85.2 202.6 86.8C204.0 88.3 204.9 90.1 205.5 92.1C206.1 94.1 206.6 97.3 206.3 98.7C206.0 100.1 205.4 99.4 203.9 100.3C202.4 101.2 200.6 102.5 197.3 104.0C194.0 105.5 188.4 107.9 184.0 109.3C179.6 110.7 175.2 111.4 170.8 112.2C166.4 113.0 161.9 113.8 157.5 114.3C153.1 114.8 149.0 114.9 144.3 114.9C139.6 114.9 134.0 114.8 129.3 114.3C124.6 113.8 120.4 113.0 116.0 112.0C111.6 111.0 107.0 109.7 102.8 108.0C98.6 106.3 93.3 103.8 90.9 102.0C88.5 100.2 88.9 99.1 88.2 97.4C87.5 95.7 86.8 93.6 86.6 92.0Z"/><path class="l" d="M87.6 90.8C88.6 91.9 90.5 95.2 93.5 97.4C96.5 99.6 101.2 102.2 105.4 104.0C109.6 105.8 114.3 107.0 118.7 108.0C123.1 109.0 127.5 109.6 131.9 110.0C136.3 110.4 140.9 110.6 145.2 110.6C149.5 110.6 153.2 110.4 157.5 110.0C161.8 109.6 166.4 108.9 170.8 108.0C175.2 107.1 179.6 106.2 184.0 104.7C188.4 103.2 194.0 100.5 197.3 98.7C200.6 96.9 202.6 95.2 203.9 94.1C205.2 93.0 205.2 92.3 205.4 92.0"/><g transform="translate(-0.2,-1.2)"><path class="g" d="M120.2 77.4L154.4 79.7Q155.9 79.9 155.3 81.3L146.5 101.6Q145.9 103 144.3 102.8L109 99.1Q107.3 98.9 108.1 97.4L118.2 78.4Q118.8 77.3 120.2 77.4Z"/><path class="w" d="M132.3 82.4L147.7 83.9L141.2 98.8L125.8 96.8Z"/><ellipse class="w" cx="125.8" cy="83.9" rx="3.5" ry="2.2" transform="rotate(-8 125.8 83.9)"/><ellipse class="w" cx="123.8" cy="88.9" rx="3.5" ry="2.2" transform="rotate(-8 123.8 88.9)"/><ellipse class="w" cx="121.4" cy="94.3" rx="3.5" ry="2.2" transform="rotate(-8 121.4 94.3)"/></g><g transform="translate(-0.6,-0.1)"><ellipse class="w" cx="175.4" cy="88.4" rx="18.4" ry="10.4" transform="rotate(2 175.4 88.4)"/><ellipse class="w" cx="175.2" cy="87.8" rx="16.5" ry="8.6" transform="rotate(2 175.2 87.8)"/></g></g><path class="mn" d="M155.2 388.0L154.4 396.6A11.2 4.6 0 0 0 176.8 396.6L176.0 388.0Z" style="fill:#dcddde"/><path d="M154.6 395.2A11.2 4.6 0 0 0 176.6 395.2" style="fill:none;stroke:#9a9c9f;stroke-width:3.2"/><path class="l" d="M154.4 396.8A11.2 4.6 0 0 0 176.8 396.8" style="stroke-width:1.1"/><path class="l" d="M155.2 388.0L154.4 396.6M176.0 388.0L176.8 396.6"/><ellipse class="l" cx="165.6" cy="388.0" rx="10.4" ry="4.4" style="fill:#e4e5e6"/><path class="l" d="M155.3 386.8A10.2 3.4 0 0 1 175.9 386.8"/><path class="l" d="M155.3 386.8A10.2 5.4 0 0 1 175.9 386.8"/><path class="m" d="M162.2 352L171.9 352L171.1 370L169.8 383.2L167.8 391L164.8 391L161.8 383.2L160.6 370Z"/><path class="l" d="M155.2 388A10.4 4.4 0 0 0 176 388"/><path class="s" d="M116.1 300.0C117.1 301.8 119.8 307.0 122.3 310.5C124.8 314.0 128.8 317.3 131.1 321.1C133.4 324.9 134.7 329.8 136.3 333.3C137.9 336.8 138.3 339.9 140.7 342.1C143.0 344.3 147.5 345.3 150.4 346.5C153.3 347.7 156.3 348.0 158.2 349.1C160.1 350.2 160.5 352.0 162.0 353.0C163.5 354.0 165.3 354.8 167.0 355.0C168.7 355.2 170.6 354.5 172.0 354.0C173.4 353.5 173.4 352.8 175.3 351.8C177.2 350.8 180.5 349.5 183.7 348.2C186.8 346.9 191.6 345.5 194.2 343.9C196.8 342.3 198.2 341.2 199.5 338.6C200.8 336.0 201.4 332.2 202.1 328.1C202.8 324.0 203.3 318.7 203.9 314.0C204.5 309.3 205.3 302.3 205.6 300.0Z"/><path class="l" d="M198.6 300.0C198.8 302.3 199.1 309.7 199.5 314.0C199.9 318.3 200.6 323.5 201.0 326.0C201.4 328.5 201.8 328.5 202.0 329.0"/><path class="l" d="M153.9 300.0C154.0 302.1 153.2 307.9 154.7 312.3C156.1 316.7 160.0 322.1 162.6 326.3C165.2 330.5 168.6 334.5 170.5 337.7C172.4 340.9 173.2 343.2 174.0 345.6C174.8 348.0 175.1 350.8 175.3 351.8"/><path class="l" d="M154.7 312.3C155.8 311.8 158.7 310.0 161.0 309.0C163.3 308.0 166.5 305.3 168.8 306.1C171.1 306.9 173.7 310.9 174.9 314.0C176.1 317.1 175.4 321.5 175.8 324.6C176.2 327.7 177.9 330.5 177.5 332.5C177.1 334.5 173.9 335.8 173.2 336.4"/><path class="m" d="M165.8 325.4Q165.6 321.4 169.6 321.2Q173.4 321.4 173.4 325.4L172.6 336.4L166.2 328.6Z"/><path class="w" d="M168.8 322.6L171.2 322.6L171.2 326.6L168.8 326.6Z" style="fill:#d9dadb"/><ellipse class="w" cx="167.0" cy="350.2" rx="8.4" ry="5.2" transform="rotate(8 167 350.2)"/></g>
<g clip-path="url(#c8)"><path class="sn" d="M228.0 300.0C232.0 288.7 247.8 301.7 252.2 303.3C256.6 304.9 253.6 307.4 254.7 309.8C255.8 312.2 257.4 315.6 258.7 317.7C260.0 319.8 261.5 321.4 262.7 322.7C263.9 324.0 264.8 325.1 266.1 325.7C267.4 326.3 268.0 326.4 270.6 326.5C273.2 326.6 277.9 325.3 282.0 326.0C286.1 326.7 291.1 329.1 295.2 330.6C299.3 332.2 303.6 333.4 306.9 335.3C310.2 337.2 311.8 339.5 314.9 341.9C318.0 344.3 322.4 348.0 325.5 349.9C328.6 351.8 331.2 352.2 333.4 353.2C335.6 354.2 337.5 354.9 338.7 355.8C339.9 356.7 340.3 357.3 340.3 358.5C340.3 359.7 339.6 361.8 338.7 363.1C337.8 364.4 336.3 365.8 334.8 366.4C333.3 366.9 332.1 367.0 329.5 366.4C326.9 365.8 323.8 361.6 318.9 362.5C314.0 363.4 306.5 366.6 300.0 372.0C293.5 377.4 285.6 389.4 280.0 395.0C274.4 400.6 269.3 403.6 266.3 405.8C263.3 408.0 263.6 407.9 261.8 408.0C260.1 408.1 257.8 407.6 255.8 406.5C253.8 405.4 251.9 403.7 249.9 401.3C247.9 398.9 246.1 395.4 243.9 392.4C241.7 389.4 238.7 386.4 236.5 383.4C234.3 380.4 231.9 376.6 230.5 374.5C229.1 372.4 228.4 383.4 228.0 371.0C227.6 358.6 224.0 311.3 228.0 300.0Z"/><path class="l" d="M252.2 303.3C252.6 304.4 253.6 307.4 254.7 309.8C255.8 312.2 257.4 315.6 258.7 317.7C260.0 319.8 261.5 321.4 262.7 322.7C263.9 324.0 264.8 325.1 266.1 325.7C267.4 326.3 268.0 326.4 270.6 326.5C273.2 326.6 277.9 325.3 282.0 326.0C286.1 326.7 291.1 329.1 295.2 330.6C299.3 332.2 304.9 334.5 306.9 335.3"/><path class="l" d="M259.2 325.8C259.7 325.7 261.1 325.4 262.0 325.4C262.9 325.3 264.2 325.5 264.7 325.5"/><path class="l" d="M228.0 371.0C228.4 371.6 229.1 372.4 230.5 374.5C231.9 376.6 234.3 380.4 236.5 383.4C238.7 386.4 241.7 389.4 243.9 392.4C246.1 395.4 247.9 398.9 249.9 401.3C251.9 403.7 253.8 405.4 255.8 406.5C257.8 407.6 260.1 408.1 261.8 408.0C263.6 407.9 265.2 406.6 266.3 405.8C267.4 405.0 268.2 403.5 268.6 403.0"/><g transform="matrix(0.9718,0.1668,-0.2253,0.9113,173.29,260.34)"><path class="m" d="M86.5 90.3C86.4 89.0 86.5 88.5 87.2 87.2C87.9 85.9 88.6 83.9 90.5 82.3C92.4 80.7 95.3 78.8 98.4 77.7C101.5 76.6 105.5 75.9 109.0 75.4C112.5 74.9 113.8 74.8 119.6 74.6C125.4 74.4 137.3 74.2 144.0 74.4C150.7 74.6 154.7 75.1 160.0 75.6C165.3 76.1 171.0 76.8 176.0 77.6C181.0 78.4 186.5 79.7 190.0 80.5C193.5 81.3 195.0 81.7 197.0 82.6C199.0 83.5 200.8 84.5 202.2 85.9C203.6 87.3 204.8 89.2 205.5 91.2C206.2 93.2 206.4 94.6 206.6 97.9C206.8 101.2 207.2 108.2 206.9 111.1C206.6 114.0 205.8 113.9 204.9 115.1C204.0 116.2 202.6 117.1 201.5 118.0C200.4 118.9 200.0 120.2 198.3 120.4C196.7 120.6 194.0 118.8 191.6 119.0C189.2 119.2 188.1 120.8 183.7 121.7C179.3 122.6 172.3 124.1 165.0 124.5C157.7 124.9 147.5 124.8 140.0 124.0C132.5 123.2 124.9 121.0 120.0 120.0C115.1 119.0 113.3 118.5 110.4 117.7C107.5 116.9 105.0 116.3 102.4 115.4C99.8 114.5 96.7 114.0 95.0 112.2C93.3 110.4 93.3 107.7 92.1 104.8C90.9 101.9 88.9 97.2 88.0 94.8C87.1 92.4 86.6 91.6 86.5 90.3Z"/><path class="w" d="M86.5 90.3C86.4 89.0 86.5 88.5 87.2 87.2C87.9 85.9 88.6 83.9 90.5 82.3C92.4 80.7 95.3 78.8 98.4 77.7C101.5 76.6 105.5 75.9 109.0 75.4C112.5 74.9 113.8 74.8 119.6 74.6C125.4 74.4 137.3 74.2 144.0 74.4C150.7 74.6 154.7 75.1 160.0 75.6C165.3 76.1 171.0 76.8 176.0 77.6C181.0 78.4 186.5 79.7 190.0 80.5C193.5 81.3 195.0 81.7 197.0 82.6C199.0 83.5 200.8 84.5 202.2 85.9C203.6 87.3 204.8 89.2 205.5 91.2C206.2 93.2 207.0 95.8 206.4 97.9C205.8 100.0 204.2 102.0 202.2 103.8C200.2 105.6 197.6 107.0 194.3 108.5C191.0 110.0 186.6 111.8 182.4 113.1C178.2 114.4 172.9 115.6 169.1 116.4C165.3 117.2 164.7 117.5 159.8 117.7C155.0 117.9 146.3 118.0 140.0 117.5C133.7 117.0 126.9 115.6 122.0 114.5C117.1 113.4 113.5 111.8 110.4 110.8C107.4 109.8 105.9 109.4 103.7 108.5C101.5 107.6 99.3 106.8 97.1 105.6C94.9 104.4 92.0 103.0 90.5 101.2C89.0 99.4 88.7 96.6 88.0 94.8C87.3 93.0 86.6 91.6 86.5 90.3Z"/><path class="l" d="M87.4 89.5C87.8 90.2 88.5 92.6 89.7 94.0C90.9 95.4 92.7 96.7 94.6 98.1C96.5 99.5 98.9 101.1 101.3 102.3C103.7 103.5 105.6 104.2 108.7 105.2C111.8 106.2 114.8 107.5 120.0 108.6C125.2 109.7 133.8 111.1 140.0 111.6C146.2 112.1 152.3 112.1 157.2 111.8C162.0 111.5 164.9 110.7 169.1 109.8C173.3 108.9 178.0 107.8 182.4 106.5C186.8 105.2 192.1 103.5 195.6 101.8C199.1 100.1 201.8 98.3 203.5 96.5C205.2 94.7 205.2 92.1 205.5 91.2"/><path class="l" d="M206.6 110.8C206.3 111.0 205.0 111.4 204.6 112.0C204.2 112.6 204.2 113.7 204.4 114.2C204.6 114.7 205.4 115.0 205.6 115.2"/><path class="g" d="M120.2 77.4L154.4 79.7Q155.9 79.9 155.3 81.3L146.5 101.6Q145.9 103 144.3 102.8L109 99.1Q107.3 98.9 108.1 97.4L118.2 78.4Q118.8 77.3 120.2 77.4Z"/><path class="w" d="M132.3 82.4L147.7 83.9L141.2 98.8L125.8 96.8Z"/><ellipse class="w" cx="125.8" cy="83.9" rx="3.5" ry="2.2" transform="rotate(-8 125.8 83.9)"/><ellipse class="w" cx="123.8" cy="88.9" rx="3.5" ry="2.2" transform="rotate(-8 123.8 88.9)"/><ellipse class="w" cx="121.4" cy="94.3" rx="3.5" ry="2.2" transform="rotate(-8 121.4 94.3)"/></g><g transform="matrix(0.9718,0.1668,-0.2253,0.9113,175.2,262.0)"><ellipse class="w" cx="170.7" cy="89.8" rx="14.4" ry="8.9" transform="rotate(2 170.7 89.8)"/><path class="m" d="M158.3 84.6L158.2 89.4A13 5 0 0 0 184.3 89.4L184.2 84.6Z" style="fill:#a9abae"/><path class="l" d="M158.5 86.3L158.5 89.9" style="stroke-width:0.8"/><path class="l" d="M159.1 87.2L159.1 90.8" style="stroke-width:0.8"/><path class="l" d="M160.2 88.0L160.2 91.6" style="stroke-width:0.8"/><path class="l" d="M161.6 88.7L161.6 92.3" style="stroke-width:0.8"/><path class="l" d="M163.4 89.3L163.4 92.9" style="stroke-width:0.8"/><path class="l" d="M165.5 89.8L165.5 93.4" style="stroke-width:0.8"/><path class="l" d="M167.7 90.1L167.7 93.7" style="stroke-width:0.8"/><path class="l" d="M170.1 90.3L170.1 93.9" style="stroke-width:0.8"/><path class="l" d="M172.4 90.3L172.4 93.9" style="stroke-width:0.8"/><path class="l" d="M174.8 90.1L174.8 93.7" style="stroke-width:0.8"/><path class="l" d="M177.0 89.8L177.0 93.4" style="stroke-width:0.8"/><path class="l" d="M179.1 89.3L179.1 92.9" style="stroke-width:0.8"/><path class="l" d="M180.9 88.7L180.9 92.3" style="stroke-width:0.8"/><path class="l" d="M182.3 88.0L182.3 91.6" style="stroke-width:0.8"/><path class="l" d="M183.4 87.2L183.4 90.8" style="stroke-width:0.8"/><path class="l" d="M184.0 86.3L184.0 89.9" style="stroke-width:0.8"/><ellipse class="m" cx="171.1" cy="83.2" rx="11.9" ry="5.6" style="fill:#b1b3b6"/></g><path class="sn" d="M299.0 332.6C301.8 331.0 304.2 333.8 306.9 335.3C309.5 336.9 311.8 339.5 314.9 341.9C318.0 344.3 322.4 348.0 325.5 349.9C328.6 351.8 331.2 352.2 333.4 353.2C335.6 354.2 337.5 354.9 338.7 355.8C339.9 356.7 340.5 357.3 340.5 358.5C340.5 359.7 339.8 361.8 338.9 363.1C337.9 364.5 336.4 366.0 334.8 366.6C333.2 367.2 332.1 367.3 329.5 366.6C326.9 365.9 322.2 363.9 318.9 362.5C315.6 361.1 312.9 359.8 309.6 358.5C306.3 357.2 302.3 356.8 299.0 354.5C295.7 352.2 290.0 348.6 290.0 345.0C290.0 341.4 296.2 334.2 299.0 332.6Z"/><path class="l" d="M299.0 332.6C300.3 333.1 304.2 333.8 306.9 335.3C309.5 336.9 311.8 339.5 314.9 341.9C318.0 344.3 322.4 348.0 325.5 349.9C328.6 351.8 331.2 352.2 333.4 353.2C335.6 354.2 337.5 354.9 338.7 355.8C339.9 356.7 340.5 357.3 340.5 358.5C340.5 359.7 339.8 361.8 338.9 363.1C337.9 364.5 336.4 366.0 334.8 366.6C333.2 367.2 332.1 367.3 329.5 366.6C326.9 365.9 322.2 363.9 318.9 362.5C315.6 361.1 312.6 359.7 309.6 358.5C306.6 357.3 302.4 355.8 301.0 355.2"/><path class="w" d="M325 353.4L328.6 351.6L339.2 356.8Q340.2 357.6 339.6 358.8L338 361.2Q337.2 362.2 335.6 361.6L325.8 356.8Q324.6 355.4 325 353.4Z"/><path class="sn" d="M253.6 396.0C254.2 393.8 254.3 391.4 254.8 389.0C255.3 386.6 255.9 383.8 256.6 381.9C257.3 380.0 258.0 378.4 259.0 377.4C260.0 376.4 261.4 375.9 262.5 375.8C263.6 375.7 264.9 376.1 265.6 376.6C266.4 377.1 266.6 376.5 267.0 378.9C267.4 381.3 267.6 387.0 268.0 390.9C268.4 394.8 269.5 399.5 269.2 402.0C268.9 404.5 267.5 404.8 266.3 405.8C265.1 406.8 263.6 407.9 261.8 408.0C260.1 408.1 257.6 407.5 255.8 406.5C254.0 405.5 251.4 403.8 251.0 402.0C250.6 400.2 253.0 398.2 253.6 396.0Z"/><path class="l" d="M253.6 394.6C253.8 393.5 254.3 390.1 254.8 388.0C255.3 385.9 255.9 383.7 256.6 381.9C257.3 380.1 258.0 378.4 259.0 377.4C260.0 376.4 261.4 375.9 262.5 375.8C263.6 375.7 264.9 376.1 265.6 376.6C266.4 377.1 266.7 377.5 267.0 378.9C267.3 380.3 267.5 384.0 267.6 385.0"/><path class="s" d="M268.5 383.4C269.0 381.3 269.5 380.5 270.4 379.6C271.3 378.7 272.5 378.2 273.7 378.0C274.9 377.8 276.4 377.9 277.4 378.2C278.4 378.5 278.9 378.1 279.9 380.0C280.9 381.9 282.4 385.6 283.4 389.4C284.3 393.2 285.1 398.8 285.6 402.8C286.1 406.8 287.1 410.7 286.4 413.2C285.7 415.7 283.1 417.1 281.2 417.9C279.3 418.7 276.9 418.7 275.2 417.9C273.4 417.1 271.8 415.7 270.7 413.2C269.6 410.7 269.4 406.3 268.9 402.8C268.4 399.3 267.7 395.2 267.6 392.0C267.5 388.8 268.0 385.5 268.5 383.4Z"/><path class="s" d="M284.6 391.5C284.6 388.7 285.3 388.1 286.0 387.0C286.7 385.9 287.2 385.2 288.6 384.6C290.0 384.0 292.7 382.9 294.6 383.2C296.5 383.5 298.3 383.9 299.8 386.2C301.3 388.5 302.4 393.3 303.5 396.8C304.6 400.3 306.1 404.3 306.5 407.3C306.9 410.3 306.8 412.7 305.8 414.7C304.8 416.7 302.6 418.6 300.5 419.4C298.4 420.2 295.1 420.2 293.1 419.4C291.1 418.6 289.8 417.3 288.6 414.7C287.5 412.1 286.9 407.9 286.2 404.0C285.5 400.1 284.6 394.3 284.6 391.5Z"/><path class="s" d="M306.5 402.0C307.0 399.8 308.8 399.2 310.2 398.3C311.6 397.4 313.3 396.9 315.0 396.8C316.7 396.8 319.0 397.1 320.4 398.0C321.8 398.9 323.0 400.3 323.6 402.0C324.2 403.7 324.4 406.2 324.0 408.0C323.6 409.8 322.3 411.7 321.0 413.0C319.7 414.3 317.7 415.5 316.0 415.8C314.3 416.1 312.5 415.7 311.0 415.0C309.5 414.3 307.9 413.9 307.2 411.7C306.4 409.5 306.0 404.2 306.5 402.0Z"/><ellipse class="w" cx="262.5" cy="382.6" rx="3.5" ry="4.2"/><ellipse class="w" cx="275.5" cy="386.0" rx="5.2" ry="6.2" transform="rotate(-8 275.5 386)"/><path class="w" d="M285.8 389.0C286.3 387.7 288.3 387.7 290.0 387.4C291.7 387.1 294.4 386.7 295.8 387.0C297.2 387.3 297.7 388.5 298.2 389.4C298.7 390.3 299.2 391.4 299.0 392.6C298.8 393.8 298.0 395.6 297.2 396.6C296.4 397.6 295.2 398.3 294.0 398.6C292.8 398.9 291.3 398.9 290.1 398.3C288.9 397.7 287.7 396.6 287.0 395.0C286.3 393.4 285.3 390.3 285.8 389.0Z"/><path class="w" d="M308.6 404.4L316.6 402.6Q319.2 403.4 319 406Q318.6 409.6 315.6 411.2Q312.6 412 310.6 410.2Q308.6 408 308.6 404.4Z"/><path class="k" d="M359.9 400.3L368.6 399.8L373.8 410.9L370.8 409.2Q368 416 362.2 418.1L365.5 420.8L354.4 420.3L352.6 409.2L356 412.2Q361.8 409 363.5 402.6Z"/></g>
<g clip-path="url(#c9)"><circle class="w" cx="420.4" cy="358.6" r="18.5"/><circle class="w" cx="420.4" cy="358.6" r="13.6"/><circle class="w" cx="420.2" cy="362.6" r="7.3"/><g transform="translate(455.6,383.4) rotate(30)"><rect class="w" x="-3.4" y="0.5" width="6.8" height="6"/><rect class="w" x="-4.4" y="-4" width="8.8" height="4.6"/><path class="l" d="M-2.8 -3L-2.8 -0.4" style="stroke-width:0.7"/><path class="l" d="M-1.4 -3L-1.4 -0.4" style="stroke-width:0.7"/><path class="l" d="M0.0 -3L0.0 -0.4" style="stroke-width:0.7"/><path class="l" d="M1.4 -3L1.4 -0.4" style="stroke-width:0.7"/><path class="l" d="M2.8 -3L2.8 -0.4" style="stroke-width:0.7"/></g><g transform="translate(388.4,383.4) rotate(-30)"><rect class="w" x="-3.4" y="0.5" width="6.8" height="6"/><rect class="w" x="-4.4" y="-4" width="8.8" height="4.6"/></g><circle class="w" cx="422.0" cy="431.5" r="51.5"/><rect class="w" x="416.2" y="368.6" width="9.4" height="13.4"/><path class="l" d="M416.2 378L425.6 378"/><path class="wn" d="M416.7 380L425.1 380L425.1 384L416.7 384Z"/><circle class="l" cx="422.0" cy="431.5" r="42.8"/><circle class="l" cx="422.0" cy="431.5" r="40.7"/><circle class="l" cx="422.0" cy="431.5" r="38.2"/><path class="l" d="M422.0 393.3L422.0 390.8M424.4 393.4L424.6 390.9M426.8 393.6L427.1 391.1M429.2 394.0L429.6 391.5M431.5 394.5L432.1 392.1M433.8 395.2L434.6 392.8M436.1 396.0L437.0 393.7M438.3 396.9L439.3 394.7M440.4 398.0L441.6 395.8M442.5 399.2L443.8 397.1M444.5 400.6L445.9 398.6M446.3 402.1L447.9 400.1M448.1 403.7L449.9 401.8M449.8 405.4L451.7 403.6M451.4 407.2L453.4 405.6M452.9 409.0L454.9 407.6M454.3 411.0L456.4 409.7M455.5 413.1L457.7 411.9M456.6 415.2L458.8 414.2M457.5 417.4L459.8 416.5M458.3 419.7L460.7 418.9M459.0 422.0L461.4 421.4M459.5 424.3L462.0 423.9M459.9 426.7L462.4 426.4M460.1 429.1L462.6 428.9M460.2 431.5L462.7 431.5M460.1 433.9L462.6 434.1M459.9 436.3L462.4 436.6M459.5 438.7L462.0 439.1M459.0 441.0L461.4 441.6M458.3 443.3L460.7 444.1M457.5 445.6L459.8 446.5M456.6 447.8L458.8 448.8M455.5 449.9L457.7 451.1M454.3 452.0L456.4 453.3M452.9 454.0L454.9 455.4M451.4 455.8L453.4 457.4M449.8 457.6L451.7 459.4M448.1 459.3L449.9 461.2M446.3 460.9L447.9 462.9M444.5 462.4L445.9 464.4M442.5 463.8L443.8 465.9M440.4 465.0L441.6 467.2M438.3 466.1L439.3 468.3M436.1 467.0L437.0 469.3M433.8 467.8L434.6 470.2M431.5 468.5L432.1 470.9M429.2 469.0L429.6 471.5M426.8 469.4L427.1 471.9M424.4 469.6L424.6 472.1M422.0 469.7L422.0 472.2M419.6 469.6L419.4 472.1M417.2 469.4L416.9 471.9M414.8 469.0L414.4 471.5M412.5 468.5L411.9 470.9M410.2 467.8L409.4 470.2M407.9 467.0L407.0 469.3M405.7 466.1L404.7 468.3M403.6 465.0L402.4 467.2M401.5 463.8L400.2 465.9M399.5 462.4L398.1 464.4M397.7 460.9L396.1 462.9M395.9 459.3L394.1 461.2M394.2 457.6L392.3 459.4M392.6 455.8L390.6 457.4M391.1 454.0L389.1 455.4M389.7 452.0L387.6 453.3M388.5 449.9L386.3 451.1M387.4 447.8L385.2 448.8M386.5 445.6L384.2 446.5M385.7 443.3L383.3 444.1M385.0 441.0L382.6 441.6M384.5 438.7L382.0 439.1M384.1 436.3L381.6 436.6M383.9 433.9L381.4 434.1M383.8 431.5L381.3 431.5M383.9 429.1L381.4 428.9M384.1 426.7L381.6 426.4M384.5 424.3L382.0 423.9M385.0 422.0L382.6 421.4M385.7 419.7L383.3 418.9M386.5 417.4L384.2 416.5M387.4 415.2L385.2 414.2M388.5 413.1L386.3 411.9M389.7 411.0L387.6 409.7M391.1 409.0L389.1 407.6M392.6 407.2L390.6 405.6M394.2 405.4L392.3 403.6M395.9 403.7L394.1 401.8M397.7 402.1L396.1 400.1M399.5 400.6L398.1 398.6M401.5 399.2L400.2 397.1M403.6 398.0L402.4 395.8M405.7 396.9L404.7 394.7M407.9 396.0L407.0 393.7M410.2 395.2L409.4 392.8M412.5 394.5L411.9 392.1M414.8 394.0L414.4 391.5M417.2 393.6L416.9 391.1M419.6 393.4L419.4 390.9" style="stroke-width:0.7"/><path class="l" d="M422.0 394.9L422.0 388.5M440.3 399.8L443.5 394.3M453.7 413.2L459.2 410.0M458.6 431.5L465.0 431.5M453.7 449.8L459.2 453.0M440.3 463.2L443.5 468.7M422.0 468.1L422.0 474.5M403.7 463.2L400.5 468.7M390.3 449.8L384.8 453.0M385.4 431.5L379.0 431.5M390.3 413.2L384.8 410.0M403.7 399.8L400.5 394.3" style="stroke-width:0.9"/><text x="420.7" y="399.2" font-size="7" text-anchor="middle" fill="#2e2c2d">0</text><text x="440.4" y="403.9" font-size="7" text-anchor="middle" fill="#2e2c2d">1</text><text x="452.3" y="416.0" font-size="7" text-anchor="middle" fill="#2e2c2d">2</text><text x="456.3" y="432.6" font-size="7" text-anchor="middle" fill="#2e2c2d">3</text><text x="404.4" y="405.2" font-size="7" text-anchor="middle" fill="#2e2c2d">11</text><text x="394.6" y="416.6" font-size="7" text-anchor="middle" fill="#2e2c2d">10</text><path class="k" d="M418.7 428.4L420.6 390.6L421.7 390.6L422.7 428.4Z"/><path class="k" d="M421.6 428.2L449.4 439.8L448.6 441.4L420.4 432.6Z"/><circle cx="420.3" cy="430.3" r="2.1" style="fill:#fff;stroke:#2f2d2e;stroke-width:1.5"/><path class="k" d="M424.9 403.3Q433 403.4 438.9 408.7Q442.2 411.6 443.9 414.9L448.3 409.3L450.8 434.8L430.3 417.3L438.4 417.4Q436.6 413 432 409.5Q429 407 424.9 406.5Z"/></g>
<g clip-path="url(#c10)"><g transform="translate(0.2,445.3) scale(1,1.05) translate(0,-8.3)"><path class="sn" d="M64.0 29.0C67.9 20.0 82.1 27.4 87.2 29.3C92.3 31.2 92.0 37.0 94.5 40.6C97.0 44.2 100.4 49.0 102.4 51.2C104.4 53.4 104.6 53.2 106.4 53.8C108.2 54.3 110.3 54.6 113.0 54.5C115.7 54.4 119.0 53.3 122.3 52.9C125.6 52.5 129.3 52.0 132.9 52.2C136.5 52.4 140.2 53.1 144.0 54.2C147.8 55.3 151.7 57.0 155.9 58.8C160.1 60.6 165.1 63.1 169.1 65.1C173.1 67.1 176.4 68.6 179.7 70.6C183.0 72.6 185.7 74.8 189.0 77.0C192.3 79.2 196.9 81.7 199.6 83.8C202.3 85.9 204.9 86.9 205.0 89.6C205.1 92.3 205.8 95.3 200.0 100.0C194.2 104.7 182.3 112.7 170.0 118.0C157.7 123.3 134.2 128.9 126.0 132.0C117.8 135.1 123.0 135.6 121.0 136.3C119.0 137.0 116.5 137.0 114.3 136.3C112.1 135.6 109.5 134.0 107.7 132.3C105.9 130.6 105.2 127.8 103.7 126.3C102.2 124.8 100.4 124.2 98.4 123.0C96.4 121.8 93.8 120.8 91.8 119.0C89.8 117.2 88.5 115.2 86.5 112.4C84.5 109.7 82.3 105.9 79.9 102.5C77.5 99.1 74.7 95.2 72.0 91.9C69.3 88.7 65.3 93.5 64.0 83.0C62.7 72.5 60.1 38.0 64.0 29.0Z"/><path class="l" d="M87.2 29.3C88.4 31.2 92.0 37.0 94.5 40.6C97.0 44.2 100.4 49.0 102.4 51.2C104.4 53.4 104.6 53.2 106.4 53.8C108.2 54.3 110.3 54.6 113.0 54.5C115.7 54.4 119.0 53.3 122.3 52.9C125.6 52.5 129.3 52.0 132.9 52.2C136.5 52.4 140.2 53.1 144.0 54.2C147.8 55.3 151.7 57.0 155.9 58.8C160.1 60.6 165.1 63.1 169.1 65.1C173.1 67.1 176.4 68.6 179.7 70.6C183.0 72.6 185.7 74.8 189.0 77.0C192.3 79.2 196.9 81.7 199.6 83.8C202.2 85.9 204.0 88.6 204.9 89.6"/><path class="l" d="M102.2 56.0C102.8 55.8 104.7 55.2 106.0 54.9C107.3 54.6 109.5 54.4 110.2 54.3"/><path class="l" d="M64.0 83.0C65.3 84.5 69.3 88.7 72.0 91.9C74.7 95.2 77.5 99.1 79.9 102.5C82.3 105.9 84.5 109.7 86.5 112.4C88.5 115.2 89.8 117.2 91.8 119.0C93.8 120.8 96.4 121.8 98.4 123.0C100.4 124.2 102.2 124.8 103.7 126.3C105.2 127.8 105.9 130.6 107.7 132.3C109.5 134.0 112.1 135.6 114.3 136.3C116.5 137.0 119.1 137.0 121.0 136.3C122.9 135.6 124.8 133.0 125.6 132.3"/><path class="m" d="M86.5 90.3C86.4 89.0 86.5 88.5 87.2 87.2C87.9 85.9 88.6 83.9 90.5 82.3C92.4 80.7 95.3 78.8 98.4 77.7C101.5 76.6 105.5 75.9 109.0 75.4C112.5 74.9 113.8 74.8 119.6 74.6C125.4 74.4 137.3 74.2 144.0 74.4C150.7 74.6 154.7 75.1 160.0 75.6C165.3 76.1 171.0 76.8 176.0 77.6C181.0 78.4 186.5 79.7 190.0 80.5C193.5 81.3 195.0 81.7 197.0 82.6C199.0 83.5 200.8 84.5 202.2 85.9C203.6 87.3 204.8 89.2 205.5 91.2C206.2 93.2 206.4 94.6 206.6 97.9C206.8 101.2 207.2 108.2 206.9 111.1C206.6 114.0 205.8 113.9 204.9 115.1C204.0 116.2 202.6 117.1 201.5 118.0C200.4 118.9 200.0 120.2 198.3 120.4C196.7 120.6 194.0 118.8 191.6 119.0C189.2 119.2 188.1 120.8 183.7 121.7C179.3 122.6 172.3 124.1 165.0 124.5C157.7 124.9 147.5 124.8 140.0 124.0C132.5 123.2 124.9 121.0 120.0 120.0C115.1 119.0 113.3 118.5 110.4 117.7C107.5 116.9 105.0 116.3 102.4 115.4C99.8 114.5 96.7 114.0 95.0 112.2C93.3 110.4 93.3 107.7 92.1 104.8C90.9 101.9 88.9 97.2 88.0 94.8C87.1 92.4 86.6 91.6 86.5 90.3Z"/><path class="w" d="M86.5 90.3C86.4 89.0 86.5 88.5 87.2 87.2C87.9 85.9 88.6 83.9 90.5 82.3C92.4 80.7 95.3 78.8 98.4 77.7C101.5 76.6 105.5 75.9 109.0 75.4C112.5 74.9 113.8 74.8 119.6 74.6C125.4 74.4 137.3 74.2 144.0 74.4C150.7 74.6 154.7 75.1 160.0 75.6C165.3 76.1 171.0 76.8 176.0 77.6C181.0 78.4 186.5 79.7 190.0 80.5C193.5 81.3 195.0 81.7 197.0 82.6C199.0 83.5 200.8 84.5 202.2 85.9C203.6 87.3 204.8 89.2 205.5 91.2C206.2 93.2 207.0 95.8 206.4 97.9C205.8 100.0 204.2 102.0 202.2 103.8C200.2 105.6 197.6 107.0 194.3 108.5C191.0 110.0 186.6 111.8 182.4 113.1C178.2 114.4 172.9 115.6 169.1 116.4C165.3 117.2 164.7 117.5 159.8 117.7C155.0 117.9 146.3 118.0 140.0 117.5C133.7 117.0 126.9 115.6 122.0 114.5C117.1 113.4 113.5 111.8 110.4 110.8C107.4 109.8 105.9 109.4 103.7 108.5C101.5 107.6 99.3 106.8 97.1 105.6C94.9 104.4 92.0 103.0 90.5 101.2C89.0 99.4 88.7 96.6 88.0 94.8C87.3 93.0 86.6 91.6 86.5 90.3Z"/><path class="l" d="M87.4 89.5C87.8 90.2 88.5 92.6 89.7 94.0C90.9 95.4 92.7 96.7 94.6 98.1C96.5 99.5 98.9 101.1 101.3 102.3C103.7 103.5 105.6 104.2 108.7 105.2C111.8 106.2 114.8 107.5 120.0 108.6C125.2 109.7 133.8 111.1 140.0 111.6C146.2 112.1 152.3 112.1 157.2 111.8C162.0 111.5 164.9 110.7 169.1 109.8C173.3 108.9 178.0 107.8 182.4 106.5C186.8 105.2 192.1 103.5 195.6 101.8C199.1 100.1 201.8 98.3 203.5 96.5C205.2 94.7 205.2 92.1 205.5 91.2"/><path class="l" d="M206.6 110.8C206.3 111.0 205.0 111.4 204.6 112.0C204.2 112.6 204.2 113.7 204.4 114.2C204.6 114.7 205.4 115.0 205.6 115.2"/><path class="g" d="M120.2 77.4L154.4 79.7Q155.9 79.9 155.3 81.3L146.5 101.6Q145.9 103 144.3 102.8L109 99.1Q107.3 98.9 108.1 97.4L118.2 78.4Q118.8 77.3 120.2 77.4Z"/><path class="w" d="M132.3 82.4L147.7 83.9L141.2 98.8L125.8 96.8Z"/><ellipse class="w" cx="125.8" cy="83.9" rx="3.5" ry="2.2" transform="rotate(-8 125.8 83.9)"/><ellipse class="w" cx="123.8" cy="88.9" rx="3.5" ry="2.2" transform="rotate(-8 123.8 88.9)"/><ellipse class="w" cx="121.4" cy="94.3" rx="3.5" ry="2.2" transform="rotate(-8 121.4 94.3)"/><ellipse class="w" cx="170.7" cy="89.8" rx="14.4" ry="8.9" transform="rotate(2 170.7 89.8)"/><path class="m" d="M158.3 84.6L158.2 89.4A13 5 0 0 0 184.3 89.4L184.2 84.6Z" style="fill:#a9abae"/><path class="l" d="M158.5 86.3L158.5 89.9" style="stroke-width:0.8"/><path class="l" d="M159.1 87.2L159.1 90.8" style="stroke-width:0.8"/><path class="l" d="M160.2 88.0L160.2 91.6" style="stroke-width:0.8"/><path class="l" d="M161.6 88.7L161.6 92.3" style="stroke-width:0.8"/><path class="l" d="M163.4 89.3L163.4 92.9" style="stroke-width:0.8"/><path class="l" d="M165.5 89.8L165.5 93.4" style="stroke-width:0.8"/><path class="l" d="M167.7 90.1L167.7 93.7" style="stroke-width:0.8"/><path class="l" d="M170.1 90.3L170.1 93.9" style="stroke-width:0.8"/><path class="l" d="M172.4 90.3L172.4 93.9" style="stroke-width:0.8"/><path class="l" d="M174.8 90.1L174.8 93.7" style="stroke-width:0.8"/><path class="l" d="M177.0 89.8L177.0 93.4" style="stroke-width:0.8"/><path class="l" d="M179.1 89.3L179.1 92.9" style="stroke-width:0.8"/><path class="l" d="M180.9 88.7L180.9 92.3" style="stroke-width:0.8"/><path class="l" d="M182.3 88.0L182.3 91.6" style="stroke-width:0.8"/><path class="l" d="M183.4 87.2L183.4 90.8" style="stroke-width:0.8"/><path class="l" d="M184.0 86.3L184.0 89.9" style="stroke-width:0.8"/><ellipse class="m" cx="171.1" cy="82.6" rx="12.0" ry="6.5" style="fill:#b1b3b6"/><path class="sn" d="M110.6 109.1C110.8 106.1 110.8 107.0 111.3 106.3C111.8 105.5 112.5 105.0 113.4 104.6C114.3 104.2 115.6 103.8 116.6 103.8C117.6 103.8 118.8 104.1 119.6 104.6C120.4 105.1 121.1 105.9 121.6 106.8C122.1 107.7 122.1 108.1 122.4 110.0C122.7 111.9 122.8 115.0 123.4 118.0C124.0 121.0 125.3 125.5 125.8 128.0C126.3 130.5 127.0 131.6 126.2 133.0C125.4 134.4 123.0 136.0 121.0 136.6C119.0 137.2 116.0 137.2 114.3 136.6C112.6 136.0 111.2 135.0 110.6 133.0C109.9 131.0 110.4 128.4 110.4 124.4C110.4 120.4 110.4 112.1 110.6 109.1Z"/><path class="l" d="M110.4 124.4C110.4 123.0 110.4 118.5 110.4 116.0C110.4 113.5 110.4 110.7 110.6 109.1C110.8 107.5 110.8 107.0 111.3 106.3C111.8 105.5 112.5 105.0 113.4 104.6C114.3 104.2 115.6 103.8 116.6 103.8C117.6 103.8 118.8 104.1 119.6 104.6C120.4 105.1 121.1 105.9 121.6 106.8C122.1 107.7 122.1 108.1 122.4 110.0C122.7 111.9 122.8 115.0 123.4 118.0C124.0 121.0 125.3 125.8 125.8 128.0C126.3 130.2 126.3 130.9 126.4 131.5"/><path class="l" d="M103.7 126.3C104.4 127.3 106.6 130.9 107.7 132.3C108.8 133.7 109.5 134.1 110.6 134.8C111.7 135.5 112.6 136.2 114.3 136.5C116.0 136.8 119.2 136.9 121.0 136.5C122.8 136.1 123.9 134.7 124.8 133.8C125.7 132.9 126.1 131.5 126.4 131.0"/><path class="s" d="M122.6 109.0C122.8 107.3 123.1 107.1 123.8 106.3C124.5 105.5 125.5 104.7 126.5 104.2C127.5 103.8 128.8 103.4 130.0 103.6C131.2 103.8 132.5 104.5 133.5 105.4C134.5 106.3 135.1 106.8 136.0 108.8C136.9 110.8 137.7 114.8 138.8 117.7C139.9 120.6 141.2 122.9 142.6 126.0C144.0 129.1 146.3 134.1 147.5 136.5C148.7 138.9 150.6 139.0 150.0 140.2C149.4 141.3 146.0 142.8 144.0 143.4C142.0 144.0 140.3 144.3 138.2 143.8C136.1 143.3 133.5 142.3 131.5 140.6C129.5 138.9 127.5 136.4 126.3 133.6C125.0 130.8 124.7 126.9 124.0 124.0C123.3 121.1 122.5 118.9 122.3 116.4C122.1 113.9 122.3 110.7 122.6 109.0Z"/><path class="s" d="M164.2 121.0C164.7 119.3 166.4 117.8 168.2 116.9C170.0 116.1 173.1 115.6 175.2 115.9C177.3 116.2 179.4 117.3 181.0 118.6C182.6 119.9 184.1 122.0 184.5 123.8C184.9 125.6 184.3 127.9 183.3 129.6C182.3 131.2 180.4 132.8 178.7 133.7C177.0 134.6 174.7 135.0 172.9 134.8C171.2 134.6 169.5 133.8 168.2 132.5C166.9 131.2 165.7 128.9 165.0 127.0C164.3 125.1 163.7 122.7 164.2 121.0Z"/><path class="s" d="M139.4 110.6C140.0 109.4 140.7 108.2 142.0 107.4C143.3 106.6 145.7 106.0 147.2 105.8C148.7 105.6 149.9 105.8 151.0 106.2C152.1 106.6 152.5 106.4 153.6 108.0C154.7 109.6 156.1 112.5 157.8 115.7C159.5 118.9 162.1 124.0 163.6 127.3C165.1 130.6 166.9 133.3 167.1 135.4C167.3 137.5 166.5 138.8 165.0 140.0C163.5 141.2 160.2 142.5 158.0 142.6C155.8 142.7 153.6 141.8 152.0 140.8C150.4 139.8 149.7 138.3 148.5 136.5C147.3 134.7 146.1 132.4 145.0 130.0C143.9 127.6 143.1 124.6 142.0 122.0C140.9 119.4 139.1 116.3 138.7 114.4C138.3 112.5 138.8 111.8 139.4 110.6Z"/><path class="w" d="M113.3 106.6Q113.2 110.8 115.4 113.8Q117.6 116.2 119.8 114.6Q121.8 112.6 121.7 108.4Q121.4 105.6 118.6 104.8Q115.2 104.4 113.3 106.6Z"/><ellipse class="w" cx="130.2" cy="111.0" rx="5.7" ry="6.6" transform="rotate(-14 130.2 111)"/><path class="w" d="M142.2 114.6C142.6 113.5 144.3 112.2 145.5 111.4C146.7 110.6 148.5 109.7 149.6 109.9C150.7 110.1 151.1 111.4 151.8 112.6C152.5 113.8 153.9 115.8 153.9 117.1C153.9 118.4 152.8 119.7 152.0 120.6C151.2 121.5 150.3 122.3 149.2 122.4C148.1 122.5 146.5 121.9 145.5 121.2C144.5 120.5 143.8 119.1 143.2 118.0C142.6 116.9 141.8 115.7 142.2 114.6Z"/><path class="w" d="M166 123.9L175.8 120.8Q177.9 121.4 177.8 124.2Q177.4 127.6 174.4 129.3Q171.4 130.4 168.8 129Q166.6 127.2 166 123.9Z"/><path class="s" d="M64.0 74.2C65.0 74.8 68.0 76.5 69.8 77.9C71.6 79.3 73.4 81.0 74.8 82.4C76.2 83.9 77.5 85.2 78.1 86.6C78.7 88.0 78.8 89.5 78.5 90.7C78.2 91.9 77.4 92.5 76.4 93.6C75.4 94.7 73.4 96.3 72.3 97.3C71.2 98.3 70.1 98.8 69.8 99.8C69.5 100.8 70.7 101.8 70.6 103.1C70.5 104.3 70.1 105.6 69.0 107.3C67.9 109.0 64.8 112.5 64.0 113.5L64 74.2Z"/><path class="l" d="M64.0 95.2C64.5 95.5 66.0 96.4 67.0 97.2C68.0 98.0 69.3 99.4 69.8 99.8"/><path class="s" d="M64.0 51.5C65.7 52.3 70.6 54.6 73.9 56.4C77.2 58.2 80.6 60.3 83.9 62.4C87.2 64.5 90.5 66.7 93.8 68.9C97.1 71.1 101.0 73.9 103.7 75.8C106.4 77.7 108.0 79.3 109.7 80.3C111.4 81.3 112.4 81.1 113.7 82.0C115.0 82.9 116.8 84.4 117.6 85.7C118.4 87.0 118.9 88.7 118.6 89.7C118.3 90.7 117.0 91.4 115.6 91.9C114.2 92.4 112.1 92.9 110.4 92.8C108.7 92.7 107.3 92.3 105.4 91.5C103.5 90.7 100.6 88.9 98.8 87.8C97.0 86.7 96.3 85.5 94.6 84.9C92.9 84.4 90.4 84.7 88.8 84.5C87.2 84.3 86.1 84.2 84.7 83.7C83.3 83.2 82.7 82.6 80.6 81.6C78.5 80.6 75.1 79.1 72.3 77.9C69.5 76.7 65.4 74.8 64.0 74.2Z"/><path class="w" d="M108.5 82.2L112.6 80.2Q114.2 80 115.2 81.4L118.3 86.6Q118.8 88.4 117.5 89.6L115.2 91.3Q113.2 91.8 111.8 90.2L108.7 84.8Q108 83.2 108.5 82.2Z"/></g><path class="ar" d="M132.2 469.9L125.1 469.9L125.1 515.1"/><path class="k" d="M117.2 510.1L125.1 513.9L133.0 510.1L125.1 528.2Z"/></g>
<g clip-path="url(#c11)"><path class="s" d="M354.6 541.9C354.5 540.2 356.4 535.6 358.0 533.0C359.6 530.4 362.0 527.1 363.9 526.0C365.8 524.9 367.9 525.6 369.2 526.6C370.5 527.6 371.6 529.9 371.8 531.9C372.0 533.9 371.6 536.7 370.5 538.5C369.4 540.3 367.2 541.7 365.2 542.5C363.2 543.3 360.4 543.5 358.6 543.4C356.8 543.3 354.7 543.6 354.6 541.9Z"/><path class="l" d="M366.6 527.0C366.8 528.0 367.4 531.1 367.6 533.0C367.8 534.9 367.8 537.7 367.8 538.6"/><path class="sn" d="M227.0 534.5C227.4 534.2 228.0 534.1 229.7 532.9C231.3 531.6 234.6 529.5 236.9 527.0C239.2 524.5 241.5 520.2 243.6 517.7C245.7 515.2 247.5 513.1 249.5 511.7C251.5 510.3 252.7 510.8 255.5 509.1C258.3 507.5 262.1 504.4 266.1 501.8C270.1 499.2 274.9 496.2 279.3 493.8C283.7 491.4 289.1 489.4 292.6 487.2C296.1 485.0 298.3 482.2 300.5 480.6C302.7 479.1 303.9 478.4 305.6 477.9C307.3 477.3 309.7 477.0 310.9 477.3C312.1 477.6 312.8 478.5 312.9 479.9C313.0 481.3 313.0 483.6 311.6 485.9C310.2 488.2 306.4 491.8 304.3 493.8C302.2 495.8 300.9 496.0 299.0 497.8C297.1 499.6 295.0 501.8 292.6 504.4C290.2 507.0 286.8 511.1 284.6 513.7C282.4 516.4 281.1 517.9 279.3 520.3C277.5 522.7 275.8 525.6 274.0 528.3C272.2 530.9 270.5 533.3 268.7 536.2C266.9 539.1 264.7 542.9 263.4 545.5C262.1 548.1 262.1 549.2 261.0 552.0C259.9 554.8 258.1 558.1 257.0 562.0C255.9 565.9 254.4 572.4 254.2 575.6C253.9 578.9 254.7 579.4 255.5 581.5C256.4 583.6 257.7 586.5 259.3 588.5C260.9 590.5 263.8 591.8 265.1 593.2C266.4 594.6 266.7 596.4 267.0 597.0L268 600L227 600Z"/><path class="l" d="M229.7 532.9C230.9 531.9 234.6 529.5 236.9 527.0C239.2 524.5 241.5 520.2 243.6 517.7C245.7 515.2 247.5 513.1 249.5 511.7C251.5 510.3 252.7 510.8 255.5 509.1C258.3 507.5 262.1 504.4 266.1 501.8C270.1 499.2 274.9 496.2 279.3 493.8C283.7 491.4 289.1 489.4 292.6 487.2C296.1 485.0 298.3 482.2 300.5 480.6C302.7 479.1 303.9 478.4 305.6 477.9C307.3 477.3 309.7 477.0 310.9 477.3C312.1 477.6 312.8 478.5 312.9 479.9C313.0 481.3 313.0 483.6 311.6 485.9C310.2 488.2 306.4 491.8 304.3 493.8C302.2 495.8 299.9 497.1 299.0 497.8"/><path class="l" d="M293.0 486.6C293.8 486.0 296.2 484.2 298.0 483.0C299.8 481.8 301.8 480.4 303.6 479.6C305.4 478.8 308.1 478.6 309.0 478.4"/><path class="w" d="M299.0 497.8C302.3 495.1 307.8 490.8 312.2 487.9C316.6 485.0 321.1 482.6 325.5 480.6C329.9 478.6 334.7 477.1 338.7 476.0C342.7 474.9 346.2 474.2 349.3 474.2C352.4 474.2 354.9 474.8 357.3 476.0C359.7 477.2 362.1 479.2 363.9 481.3C365.7 483.4 367.0 486.0 367.9 488.5C368.8 491.0 369.2 493.4 369.2 496.5C369.2 499.6 368.8 503.4 367.9 507.1C367.0 510.9 365.7 514.8 363.9 519.0C362.1 523.2 359.5 528.1 357.3 532.3C355.1 536.5 353.1 540.8 350.7 544.2C348.3 547.6 346.1 548.2 342.7 552.5C339.2 556.8 335.1 564.4 330.0 570.0C324.9 575.6 317.0 582.9 312.0 586.0C307.0 589.1 303.4 587.4 299.8 588.4C296.2 589.4 294.1 591.2 290.6 592.2C287.1 593.2 283.2 594.4 279.0 594.3C274.8 594.2 268.6 593.1 265.1 591.4C261.6 589.7 259.9 586.5 258.1 583.9C256.4 581.3 254.8 579.4 254.6 575.8C254.4 572.1 255.9 566.0 257.0 562.0C258.1 558.0 259.9 554.8 261.0 552.0C262.1 549.2 262.1 548.1 263.4 545.5C264.7 542.9 266.9 539.1 268.7 536.2C270.5 533.3 272.2 530.9 274.0 528.3C275.8 525.6 277.5 522.7 279.3 520.3C281.1 517.9 282.4 516.4 284.6 513.7C286.8 511.1 290.2 507.0 292.6 504.4C295.0 501.8 295.7 500.6 299.0 497.8Z"/><path class="l" d="M366.4 488.0C366.6 489.4 367.6 493.3 367.6 496.5C367.6 499.7 367.2 503.3 366.3 507.0C365.4 510.7 364.1 514.5 362.4 518.6C360.6 522.7 358.0 527.5 355.8 531.6C353.6 535.7 351.6 540.0 349.2 543.4C346.8 546.8 342.7 550.6 341.4 552.0"/><path class="l" d="M270.0 592.6C271.5 592.8 275.6 594.1 279.0 594.0C282.4 593.9 287.1 593.0 290.6 592.0C294.1 591.0 298.3 588.7 299.8 588.0" style="stroke-width:1.5"/><path class="l" d="M279.6 520.6C279.8 520.2 280.4 519.1 281.0 518.4C281.6 517.7 283.0 516.9 283.4 516.6"/><path class="g" d="M301 515.2Q302.6 514 304.2 515.2L334.6 540.6Q336.2 542 334.8 543.6L305.6 579.6Q304.2 581 302.6 579.8L269.8 551.4Q268.2 550 269.6 548.4Z"/><path class="w" d="M301.7 523.7L324.3 545.1L311 560.8L287.2 539.9Z"/><ellipse class="g" cx="286.0" cy="547.8" rx="4.0" ry="4.0" style="fill:#b4b6b9"/><ellipse class="g" cx="294.0" cy="555.0" rx="4.0" ry="4.0" style="fill:#b4b6b9"/><ellipse class="g" cx="302.1" cy="562.4" rx="4.3" ry="4.3" style="fill:#b4b6b9"/><g transform="matrix(0.783,0.622,-0.566,0.824,293.4,539)" style="fill:none;stroke:#2a2829;stroke-width:1.5;stroke-linecap:butt"><path d="M1 -11.3L6.4 -11.3M7.4 -10.4L7.4 -6.3M7.4 -4.9L7.4 -0.9M1 0L6.4 0M0 -0.9L0 -4.9M0 -6.3L0 -10.4"/><path d="M9.2 0.2L10.2 0.2" style="stroke-width:1.8"/><path d="M11.6 -10.8L11.6 -6.4M12.6 -5.6L17.2 -5.6M18.2 -10.8L18.2 -6.4M18.2 -4.9L18.2 -0.3"/><path d="M21.4 -11.3L26.6 -11.3M20.4 -10.4L20.4 -6.3M20.4 -4.9L20.4 -0.9M21.4 0L26.6 0"/></g><circle class="w" cx="335.8" cy="507.7" r="15.8"/><circle class="w" cx="335.8" cy="507.7" r="14.1"/><path class="l" d="M325 513.4Q335.5 526 347 512.6"/><ellipse class="m" cx="335.5" cy="506.5" rx="11.8" ry="9.6" style="fill:#b1b3b6"/><path class="s" d="M227.0 560.4C227.4 560.3 227.2 560.4 229.7 559.7C232.2 559.0 237.9 557.5 242.2 556.4C246.5 555.3 251.1 553.9 255.5 553.1C259.9 552.3 264.3 552.1 268.7 551.8C273.1 551.5 278.2 551.5 282.0 551.1C285.8 550.7 288.7 549.5 291.3 549.1C293.9 548.7 296.1 548.2 297.9 548.5C299.6 548.8 301.0 549.9 301.8 551.1C302.6 552.3 302.9 554.4 302.5 555.8C302.1 557.2 301.1 558.6 299.2 559.7C297.3 560.8 294.2 561.4 291.3 562.4C288.4 563.4 285.8 564.5 282.0 565.7C278.2 566.9 273.1 568.3 268.7 569.7C264.3 571.1 259.9 572.9 255.5 574.3C251.1 575.7 246.3 577.0 242.2 578.3C238.1 579.6 233.5 581.4 231.0 582.3C228.5 583.2 227.7 583.4 227.0 583.6Z"/><path class="w" d="M286.6 554.4C286.9 553.4 287.6 552.9 288.4 552.4C289.2 551.9 289.5 551.5 291.3 551.1C293.1 550.7 297.4 549.5 299.2 549.8C300.9 550.1 301.5 551.8 301.8 553.1C302.1 554.4 302.3 556.5 301.2 557.7C300.1 558.9 297.3 559.8 295.2 560.4C293.1 561.0 290.0 561.4 288.6 561.1C287.2 560.8 287.1 559.5 286.8 558.4C286.5 557.3 286.3 555.4 286.6 554.4Z"/><path class="l" d="M231.0 582.3C232.8 582.0 238.1 581.5 242.0 580.4C245.9 579.3 252.2 576.4 254.2 575.6"/><path class="s" d="M334.8 565.0C333.8 563.1 335.2 560.6 335.6 559.0C336.0 557.4 336.2 556.0 337.4 555.1C338.6 554.2 341.3 554.6 342.7 553.8C344.1 553.0 344.9 551.6 346.0 550.4C347.1 549.2 348.3 546.8 349.3 546.5C350.3 546.2 350.9 546.5 352.0 548.5C353.1 550.5 355.6 555.4 356.0 558.4C356.4 561.4 355.7 564.3 354.6 566.4C353.5 568.5 351.5 570.3 349.3 571.0C347.1 571.7 343.8 571.5 341.4 570.5C339.0 569.5 335.8 566.9 334.8 565.0Z"/><path class="w" d="M336.7 555.8C337.9 554.7 342.0 554.2 344.0 554.4C346.0 554.6 347.8 555.8 348.7 557.1C349.6 558.4 349.9 560.8 349.3 562.4C348.8 564.0 347.2 566.5 345.4 567.0C343.6 567.5 340.1 566.7 338.7 565.7C337.2 564.7 337.0 562.8 336.7 561.1C336.4 559.5 335.5 556.9 336.7 555.8Z"/><path class="s" d="M316.2 571.0C317.9 569.5 322.2 568.0 325.5 567.7C328.8 567.4 333.5 567.9 336.1 569.0C338.8 570.1 340.5 572.3 341.4 574.3C342.3 576.3 342.3 579.0 341.4 580.9C340.5 582.8 338.3 584.9 336.1 585.6C333.9 586.3 331.0 585.6 328.1 584.9C325.2 584.2 321.0 583.0 318.9 581.6C316.8 580.2 315.8 578.4 315.4 576.6C314.9 574.8 314.5 572.5 316.2 571.0Z"/><path class="w" d="M317.5 571.7C318.9 570.6 323.3 569.7 325.5 569.7C327.7 569.7 329.8 570.5 330.8 571.7C331.8 572.9 331.9 575.4 331.5 576.9C331.1 578.4 330.0 580.3 328.1 580.9C326.2 581.5 322.0 581.0 320.2 580.3C318.4 579.6 317.8 578.0 317.3 576.6C316.9 575.2 316.1 572.9 317.5 571.7Z"/><path class="s" d="M299.6 587.6C298.9 586.2 299.1 584.7 300.3 583.6C301.5 582.5 304.7 581.0 306.9 580.9C309.1 580.8 310.5 581.8 313.6 582.9C316.7 584.0 322.4 586.1 325.5 587.5C328.6 588.9 330.8 590.0 332.1 591.5C333.4 593.0 333.2 594.6 333.4 596.2C333.5 597.8 335.6 600.2 333.0 601.0C330.4 601.8 321.4 601.8 318.0 601.0C314.6 600.2 314.9 597.9 312.6 596.4C310.4 594.9 306.7 593.7 304.5 592.2C302.3 590.7 300.3 589.0 299.6 587.6Z"/><path class="w" d="M301.0 584.2C302.3 583.1 306.0 581.5 308.3 581.6C310.6 581.7 313.6 583.5 314.9 584.9C316.2 586.3 316.6 588.7 316.2 590.2C315.8 591.8 314.2 593.9 312.2 594.2C310.2 594.5 306.2 593.2 304.3 592.2C302.4 591.2 301.2 589.7 300.6 588.4C300.1 587.1 299.7 585.3 301.0 584.2Z"/><path class="l" d="M250.0 585.1C251.6 585.7 256.8 587.1 259.3 588.5C261.8 589.9 263.9 591.9 265.1 593.2C266.4 594.5 266.5 595.9 266.8 596.4"/></g>

<g class="pb">
<rect x="65" y="8.3" width="149.5" height="140.1"/>
<rect x="229" y="8.3" width="149.7" height="140.1"/>
<rect x="393" y="8.3" width="149.5" height="140.2"/>
<rect x="65.4" y="155.4" width="149.1" height="140"/>
<rect x="232.4" y="155.4" width="149.2" height="140"/>
<rect x="393" y="155.3" width="149.5" height="139.9"/>
<rect x="65.4" y="301" width="149.1" height="140"/>
<rect x="229" y="301" width="149.6" height="140"/>
<rect x="391.7" y="301" width="150.8" height="140"/>
<rect x="65.4" y="445.3" width="149" height="147"/>
<rect x="229.2" y="448.8" width="149.4" height="147.4"/>
</g>
<g class="nb">
<rect x="64.6" y="7.9" width="23.2" height="22"/>
<rect x="228.6" y="7.9" width="23.2" height="22"/>
<rect x="392.6" y="7.9" width="23.2" height="22"/>
<rect x="65" y="155" width="23.2" height="22"/>
<rect x="232" y="155" width="23.2" height="22"/>
<rect x="392.6" y="154.9" width="23.2" height="21.8"/>
<rect x="65" y="300.6" width="22.8" height="22.2"/>
<rect x="228.6" y="300.6" width="23.2" height="21.4"/>
<rect x="391.3" y="300.6" width="22.5" height="20.2"/>
<rect x="65" y="444.9" width="39.2" height="23"/>
<rect x="228.8" y="448.4" width="40" height="23"/>
</g>
<g class="nt" text-anchor="middle">
<text transform="translate(75.8,27.2) scale(0.94,1)">1</text>
<text transform="translate(240.2,27.2) scale(0.94,1)">2</text>
<text transform="translate(404.4,26.9) scale(0.94,1)">3</text>
<text transform="translate(76.6,174) scale(0.94,1)">4</text>
<text transform="translate(243.6,174) scale(0.94,1)">5</text>
<text transform="translate(404.3,173.8) scale(0.94,1)">6</text>
<text transform="translate(76.4,319.8) scale(0.94,1)">7</text>
<text transform="translate(240.3,319.2) scale(0.94,1)">8</text>
<text transform="translate(403.1,318.2) scale(0.92,1)" font-size="21">9</text>
<text transform="translate(83.8,464.3) scale(0.94,1)">10a</text>
<text transform="translate(248.6,467.8) scale(0.94,1)">10b</text>
</g>
<text x="135.6" y="38.9" font-size="19.4" fill="#2e2c2d" textLength="73.6" lengthAdjust="spacingAndGlyphs">ON/OFF</text>
<text class="lb" x="139.4" y="185.9" font-size="19.4" textLength="55.4" lengthAdjust="spacingAndGlyphs">ZERO</text>
<text class="lb" x="308.2" y="176.1" font-size="19.4" textLength="66" lengthAdjust="spacingAndGlyphs">MODE</text>
<text class="lb" x="304.6" y="324.5" font-size="20.2" textLength="62.6" lengthAdjust="spacingAndGlyphs">15 sec</text>
<text class="lb" x="138.4" y="475.4" font-size="20" textLength="50" lengthAdjust="spacingAndGlyphs">TEST</text>
<text class="lb" x="417" y="321.5" font-size="16.4" textLength="122.4" lengthAdjust="spacingAndGlyphs">ClF/pH/CyA/Br:</text>
<text class="lb" x="484.6" y="345.3" font-size="16.4" textLength="53.6" lengthAdjust="spacingAndGlyphs">15 sec</text>
<text class="lb" x="474.8" y="374.8" font-size="16.4" textLength="64.8" lengthAdjust="spacingAndGlyphs">ClT/TA:</text>
<text class="lb" x="487.4" y="394.7" font-size="16.4" textLength="50.8" lengthAdjust="spacingAndGlyphs">2 min</text>
</svg>
</body></html>
